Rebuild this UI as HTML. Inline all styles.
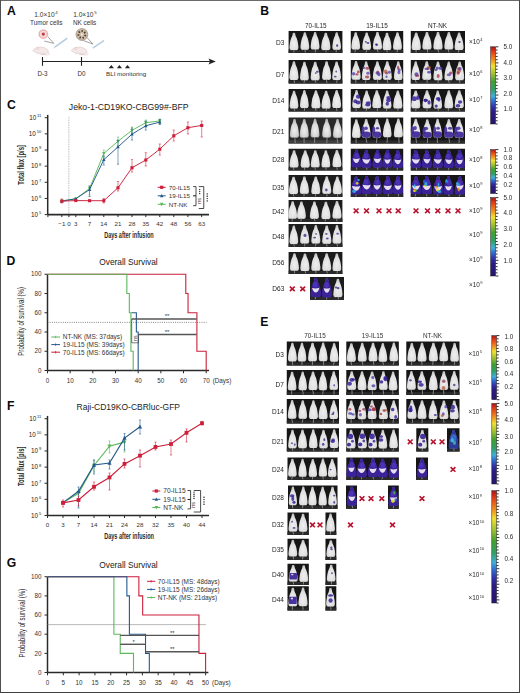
<!DOCTYPE html>
<html><head><meta charset="utf-8"><style>
html,body{margin:0;padding:0;background:#fff;}
svg{display:block;font-family:"Liberation Sans", sans-serif;}
</style></head><body>
<svg width="520" height="693" viewBox="0 0 520 693">
<defs>
<linearGradient id="cb" x1="0" y1="1" x2="0" y2="0">
<stop offset="0" stop-color="#28166c"/><stop offset="0.15" stop-color="#2c1c80"/><stop offset="0.22" stop-color="#3030a8"/>
<stop offset="0.3" stop-color="#3070d0"/><stop offset="0.36" stop-color="#40b0d8"/><stop offset="0.45" stop-color="#30a060"/>
<stop offset="0.55" stop-color="#40a030"/><stop offset="0.65" stop-color="#a0c030"/><stop offset="0.75" stop-color="#f0e030"/>
<stop offset="0.83" stop-color="#f09020"/><stop offset="0.92" stop-color="#e84818"/><stop offset="0.98" stop-color="#c02018"/><stop offset="1" stop-color="#902020"/>
</linearGradient>
<radialGradient id="mg" cx="0.5" cy="0.62" r="0.62">
<stop offset="0" stop-color="#efefef"/><stop offset="0.7" stop-color="#dedede"/><stop offset="1" stop-color="#b8b8b8"/>
</radialGradient>
<radialGradient id="mg2" cx="0.5" cy="0.6" r="0.6">
<stop offset="0" stop-color="#eeeeee"/><stop offset="0.6" stop-color="#d6d6d6"/><stop offset="1" stop-color="#a8a8a8"/>
</radialGradient>
<path id="mz" d="M0.000,0.000 C0.073,0.000 0.170,0.003 0.220,0.020 C0.270,0.037 0.273,0.070 0.300,0.100 C0.327,0.130 0.337,0.167 0.380,0.200 C0.423,0.233 0.503,0.263 0.560,0.300 C0.617,0.337 0.672,0.373 0.720,0.420 C0.768,0.467 0.813,0.523 0.850,0.580 C0.887,0.637 0.922,0.707 0.940,0.760 C0.958,0.813 1.000,0.860 0.960,0.900 C0.920,0.940 0.860,0.983 0.700,1.000 C0.540,1.017 0.233,1.000 0.000,1.000 C-0.233,1.000 -0.540,1.017 -0.700,1.000 C-0.860,0.983 -0.920,0.940 -0.960,0.900 C-1.000,0.860 -0.958,0.813 -0.940,0.760 C-0.922,0.707 -0.887,0.637 -0.850,0.580 C-0.813,0.523 -0.768,0.467 -0.720,0.420 C-0.672,0.373 -0.617,0.337 -0.560,0.300 C-0.503,0.263 -0.423,0.233 -0.380,0.200 C-0.337,0.167 -0.327,0.130 -0.300,0.100 C-0.273,0.070 -0.270,0.037 -0.220,0.020 C-0.170,0.003 -0.073,0.000 -0.000,0.000 Z"/>
<filter id="soft" x="0" y="0" width="1" height="1"><feGaussianBlur stdDeviation="0.3"/></filter>
</defs>
<rect x="0" y="0" width="520" height="693" fill="#fff"/>
<rect x="0" y="0" width="520" height="1" fill="#6a6a6a"/>
<rect x="0" y="0" width="1" height="693" fill="#505050"/>
<rect x="519" y="0" width="1" height="693" fill="#484848"/>
<rect x="0" y="692" width="520" height="1" fill="#404040"/>
<text x="7.10" y="15.40" font-size="12.2" text-anchor="start" fill="#0a0a0a" font-weight="bold" >A</text>
<text x="260.20" y="15.20" font-size="12.2" text-anchor="start" fill="#0a0a0a" font-weight="bold" >B</text>
<text x="6.90" y="108.50" font-size="12.2" text-anchor="start" fill="#0a0a0a" font-weight="bold" >C</text>
<text x="6.50" y="264.60" font-size="12.2" text-anchor="start" fill="#0a0a0a" font-weight="bold" >D</text>
<text x="260.20" y="325.50" font-size="12.2" text-anchor="start" fill="#0a0a0a" font-weight="bold" >E</text>
<text x="7.10" y="409.50" font-size="12.2" text-anchor="start" fill="#0a0a0a" font-weight="bold" >F</text>
<text x="6.70" y="566.80" font-size="12.2" text-anchor="start" fill="#0a0a0a" font-weight="bold" >G</text>
<text x="46.05" y="16.50" font-size="6.6" text-anchor="middle" fill="#333">1.0×10<tspan font-size="4.4" dx="0.6" dy="-2.77">4</tspan></text>
<text x="46.20" y="24.50" font-size="6.3" text-anchor="middle" fill="#333" font-weight="normal" >Tumor cells</text>
<text x="84.90" y="16.50" font-size="6.6" text-anchor="middle" fill="#333">1.0×10<tspan font-size="4.4" dx="0.6" dy="-2.77">5</tspan></text>
<text x="84.60" y="24.50" font-size="6.35" text-anchor="middle" fill="#333" font-weight="normal" >NK cells</text>
<line x1="42.50" y1="61.50" x2="213.00" y2="61.50" stroke="#222" stroke-width="1.1" />
<path d="M208.5,58.6 L215.8,61.5 L208.5,64.4 L210,61.5 Z" fill="#222"/>
<line x1="42.50" y1="57.00" x2="42.50" y2="65.80" stroke="#222" stroke-width="1.1" />
<line x1="81.50" y1="57.00" x2="81.50" y2="65.80" stroke="#222" stroke-width="1.1" />
<text x="42.50" y="76.30" font-size="6.3" text-anchor="middle" fill="#333" font-weight="normal" >D-3</text>
<text x="81.50" y="76.30" font-size="6.3" text-anchor="middle" fill="#333" font-weight="normal" >D0</text>
<path d="M108.70,68.3 L111.30,65 L113.90,68.3 Z" fill="#222"/>
<path d="M116.80,68.3 L119.40,65 L122.00,68.3 Z" fill="#222"/>
<path d="M124.90,68.3 L127.50,65 L130.10,68.3 Z" fill="#222"/>
<text x="106.00" y="76.40" font-size="6.25" text-anchor="start" fill="#333" font-weight="normal" >BLI monitoring</text>
<path d="M47.2,36 L53.8,43.4 L44.2,41" stroke="#666" stroke-width="0.6" fill="none"/>
<circle cx="43.3" cy="34.1" r="5.2" fill="#fdf3ee"/>
<circle cx="43.3" cy="34.1" r="4.1" fill="#f6dada" stroke="#e09090" stroke-width="0.8"/>
<circle cx="43.3" cy="34.1" r="1.6" fill="#c03a48"/>
<path d="M55.5,46.6 L66.8,38.5" stroke="#b8cde0" stroke-width="1.6" stroke-linecap="round"/>
<path d="M55.5,46.6 L53.5,48" stroke="#999" stroke-width="0.4"/>
<path d="M87,37.5 L92.8,44 L83.5,40.6" stroke="#666" stroke-width="0.6" fill="none"/>
<circle cx="81.9" cy="34.5" r="5.9" fill="#cdbba8" stroke="#8b7b6b" stroke-width="0.6"/>
<ellipse cx="85.24" cy="35.53" rx="1.1" ry="0.8" fill="#4a3a30" transform="rotate(17.2 85.24 35.53)"/>
<ellipse cx="83.18" cy="37.76" rx="1.1" ry="0.8" fill="#4a3a30" transform="rotate(68.6 83.18 37.76)"/>
<ellipse cx="80.15" cy="37.53" rx="1.1" ry="0.8" fill="#4a3a30" transform="rotate(120.0 80.15 37.53)"/>
<ellipse cx="78.44" cy="35.02" rx="1.1" ry="0.8" fill="#4a3a30" transform="rotate(171.5 78.44 35.02)"/>
<ellipse cx="79.34" cy="32.12" rx="1.1" ry="0.8" fill="#4a3a30" transform="rotate(222.9 79.34 32.12)"/>
<ellipse cx="82.16" cy="31.01" rx="1.1" ry="0.8" fill="#4a3a30" transform="rotate(274.3 82.16 31.01)"/>
<ellipse cx="84.79" cy="32.53" rx="1.1" ry="0.8" fill="#4a3a30" transform="rotate(325.8 84.79 32.53)"/>
<circle cx="81.9" cy="34.5" r="1" fill="#f4efe8"/>
<path d="M93.5,47.7 L103.5,40.8" stroke="#b8cde0" stroke-width="1.6" stroke-linecap="round"/>
<path d="M32.8,50.800000000000004 C34.3,48.6 36.3,47.2 38.8,47.2 C42.8,46.9 46.8,47.800000000000004 48.099999999999994,50.6 C48.8,52.6 46.8,53.9 42.8,53.9 C38.8,53.9 35.8,52.9 32.8,50.800000000000004 Z" fill="#f4e9e9" stroke="#d9b8b8" stroke-width="0.5"/>
<ellipse cx="37.4" cy="48.4" rx="1.3" ry="1.1" fill="#f6e2e2" stroke="#d9b8b8" stroke-width="0.4"/>
<path d="M47.8,52.1 C50.3,53.6 49.8,54.900000000000006 46.8,54.8 L40.8,54.6" fill="none" stroke="#d4b0b0" stroke-width="0.5"/>
<path d="M37.8,53.4 L37.3,54.4 M43.8,53.800000000000004 L44.099999999999994,54.6" stroke="#c8a8a8" stroke-width="0.4"/>
<path d="M71.3,50.800000000000004 C72.8,48.6 74.8,47.2 77.3,47.2 C81.3,46.9 85.3,47.800000000000004 86.6,50.6 C87.3,52.6 85.3,53.9 81.3,53.9 C77.3,53.9 74.3,52.9 71.3,50.800000000000004 Z" fill="#f4e9e9" stroke="#d9b8b8" stroke-width="0.5"/>
<ellipse cx="75.89999999999999" cy="48.4" rx="1.3" ry="1.1" fill="#f6e2e2" stroke="#d9b8b8" stroke-width="0.4"/>
<path d="M86.3,52.1 C88.8,53.6 88.3,54.900000000000006 85.3,54.8 L79.3,54.6" fill="none" stroke="#d4b0b0" stroke-width="0.5"/>
<path d="M76.3,53.4 L75.8,54.4 M82.3,53.800000000000004 L82.6,54.6" stroke="#c8a8a8" stroke-width="0.4"/>
<text x="128.70" y="110.00" font-size="8.7" text-anchor="middle" fill="#222" font-weight="normal" >Jeko-1-CD19KO-CBG99#-BFP</text>
<line x1="68.90" y1="214.60" x2="68.90" y2="116.00" stroke="#7a8a8a" stroke-width="0.7" stroke-dasharray="0.8,0.9"/>
<line x1="47.70" y1="214.60" x2="47.70" y2="114.90" stroke="#2a2a2a" stroke-width="1.5" />
<line x1="44.70" y1="214.60" x2="47.70" y2="214.60" stroke="#2a2a2a" stroke-width="1" />
<text x="41.30" y="216.90" font-size="6.3" text-anchor="end" fill="#222">10<tspan font-size="4.1" dx="0.9" dy="-2.9">5</tspan></text>
<line x1="44.70" y1="198.45" x2="47.70" y2="198.45" stroke="#2a2a2a" stroke-width="1" />
<text x="41.30" y="200.75" font-size="6.3" text-anchor="end" fill="#222">10<tspan font-size="4.1" dx="0.9" dy="-2.9">6</tspan></text>
<line x1="44.70" y1="182.30" x2="47.70" y2="182.30" stroke="#2a2a2a" stroke-width="1" />
<text x="41.30" y="184.60" font-size="6.3" text-anchor="end" fill="#222">10<tspan font-size="4.1" dx="0.9" dy="-2.9">7</tspan></text>
<line x1="44.70" y1="166.15" x2="47.70" y2="166.15" stroke="#2a2a2a" stroke-width="1" />
<text x="41.30" y="168.45" font-size="6.3" text-anchor="end" fill="#222">10<tspan font-size="4.1" dx="0.9" dy="-2.9">8</tspan></text>
<line x1="44.70" y1="150.00" x2="47.70" y2="150.00" stroke="#2a2a2a" stroke-width="1" />
<text x="41.30" y="152.30" font-size="6.3" text-anchor="end" fill="#222">10<tspan font-size="4.1" dx="0.9" dy="-2.9">9</tspan></text>
<line x1="44.70" y1="133.85" x2="47.70" y2="133.85" stroke="#2a2a2a" stroke-width="1" />
<text x="41.30" y="136.15" font-size="6.3" text-anchor="end" fill="#222">10<tspan font-size="4.1" dx="0.9" dy="-2.9">10</tspan></text>
<line x1="44.70" y1="117.70" x2="47.70" y2="117.70" stroke="#2a2a2a" stroke-width="1" />
<text x="41.30" y="120.00" font-size="6.3" text-anchor="end" fill="#222">10<tspan font-size="4.1" dx="0.9" dy="-2.9">11</tspan></text>
<line x1="47.70" y1="214.60" x2="209.00" y2="214.60" stroke="#2a2a2a" stroke-width="1.6" />
<line x1="47.90" y1="214.60" x2="47.90" y2="217.10" stroke="#2a2a2a" stroke-width="1" />
<line x1="61.80" y1="214.60" x2="61.80" y2="217.10" stroke="#2a2a2a" stroke-width="1" />
<text x="61.80" y="225.80" font-size="6.2" text-anchor="middle" fill="#333" font-weight="normal" >−1</text>
<line x1="68.90" y1="214.60" x2="68.90" y2="217.10" stroke="#2a2a2a" stroke-width="1" />
<text x="68.90" y="225.80" font-size="6.2" text-anchor="middle" fill="#333" font-weight="normal" >0</text>
<line x1="75.80" y1="214.60" x2="75.80" y2="217.10" stroke="#2a2a2a" stroke-width="1" />
<text x="75.80" y="225.80" font-size="6.2" text-anchor="middle" fill="#333" font-weight="normal" >3</text>
<line x1="89.60" y1="214.60" x2="89.60" y2="217.10" stroke="#2a2a2a" stroke-width="1" />
<text x="89.60" y="225.80" font-size="6.2" text-anchor="middle" fill="#333" font-weight="normal" >7</text>
<line x1="103.80" y1="214.60" x2="103.80" y2="217.10" stroke="#2a2a2a" stroke-width="1" />
<text x="103.80" y="225.80" font-size="6.2" text-anchor="middle" fill="#333" font-weight="normal" >14</text>
<line x1="118.00" y1="214.60" x2="118.00" y2="217.10" stroke="#2a2a2a" stroke-width="1" />
<text x="118.00" y="225.80" font-size="6.2" text-anchor="middle" fill="#333" font-weight="normal" >21</text>
<line x1="132.00" y1="214.60" x2="132.00" y2="217.10" stroke="#2a2a2a" stroke-width="1" />
<text x="132.00" y="225.80" font-size="6.2" text-anchor="middle" fill="#333" font-weight="normal" >28</text>
<line x1="145.80" y1="214.60" x2="145.80" y2="217.10" stroke="#2a2a2a" stroke-width="1" />
<text x="145.80" y="225.80" font-size="6.2" text-anchor="middle" fill="#333" font-weight="normal" >35</text>
<line x1="159.80" y1="214.60" x2="159.80" y2="217.10" stroke="#2a2a2a" stroke-width="1" />
<text x="159.80" y="225.80" font-size="6.2" text-anchor="middle" fill="#333" font-weight="normal" >42</text>
<line x1="173.80" y1="214.60" x2="173.80" y2="217.10" stroke="#2a2a2a" stroke-width="1" />
<text x="173.80" y="225.80" font-size="6.2" text-anchor="middle" fill="#333" font-weight="normal" >48</text>
<line x1="187.90" y1="214.60" x2="187.90" y2="217.10" stroke="#2a2a2a" stroke-width="1" />
<text x="187.90" y="225.80" font-size="6.2" text-anchor="middle" fill="#333" font-weight="normal" >56</text>
<line x1="201.70" y1="214.60" x2="201.70" y2="217.10" stroke="#2a2a2a" stroke-width="1" />
<text x="201.70" y="225.80" font-size="6.2" text-anchor="middle" fill="#333" font-weight="normal" >63</text>
<text transform="translate(23.60,164.90) rotate(-90) scale(0.675,1)" font-size="8.7" text-anchor="middle" fill="#2a2a2a" font-weight="bold">Total flux [p/s]</text>
<text transform="translate(128.90,237.80) scale(0.672,1)" font-size="8.2" text-anchor="middle" fill="#2a2a2a" font-weight="bold">Days after infusion</text>
<line x1="89.60" y1="186.00" x2="89.60" y2="195.00" stroke="#5cb85c" stroke-width="0.65" opacity="0.85"/>
<line x1="88.50" y1="186.00" x2="90.70" y2="186.00" stroke="#5cb85c" stroke-width="0.65" opacity="0.85"/>
<line x1="88.50" y1="195.00" x2="90.70" y2="195.00" stroke="#5cb85c" stroke-width="0.65" opacity="0.85"/>
<line x1="103.80" y1="150.00" x2="103.80" y2="157.00" stroke="#5cb85c" stroke-width="0.65" opacity="0.85"/>
<line x1="102.70" y1="150.00" x2="104.90" y2="150.00" stroke="#5cb85c" stroke-width="0.65" opacity="0.85"/>
<line x1="102.70" y1="157.00" x2="104.90" y2="157.00" stroke="#5cb85c" stroke-width="0.65" opacity="0.85"/>
<line x1="118.00" y1="137.00" x2="118.00" y2="146.00" stroke="#5cb85c" stroke-width="0.65" opacity="0.85"/>
<line x1="116.90" y1="137.00" x2="119.10" y2="137.00" stroke="#5cb85c" stroke-width="0.65" opacity="0.85"/>
<line x1="116.90" y1="146.00" x2="119.10" y2="146.00" stroke="#5cb85c" stroke-width="0.65" opacity="0.85"/>
<line x1="132.00" y1="127.00" x2="132.00" y2="133.00" stroke="#5cb85c" stroke-width="0.65" opacity="0.85"/>
<line x1="130.90" y1="127.00" x2="133.10" y2="127.00" stroke="#5cb85c" stroke-width="0.65" opacity="0.85"/>
<line x1="130.90" y1="133.00" x2="133.10" y2="133.00" stroke="#5cb85c" stroke-width="0.65" opacity="0.85"/>
<line x1="145.80" y1="120.00" x2="145.80" y2="125.00" stroke="#5cb85c" stroke-width="0.65" opacity="0.85"/>
<line x1="144.70" y1="120.00" x2="146.90" y2="120.00" stroke="#5cb85c" stroke-width="0.65" opacity="0.85"/>
<line x1="144.70" y1="125.00" x2="146.90" y2="125.00" stroke="#5cb85c" stroke-width="0.65" opacity="0.85"/>
<line x1="159.80" y1="119.00" x2="159.80" y2="124.00" stroke="#5cb85c" stroke-width="0.65" opacity="0.85"/>
<line x1="158.70" y1="119.00" x2="160.90" y2="119.00" stroke="#5cb85c" stroke-width="0.65" opacity="0.85"/>
<line x1="158.70" y1="124.00" x2="160.90" y2="124.00" stroke="#5cb85c" stroke-width="0.65" opacity="0.85"/>
<polyline points="61.80,200.87 75.80,198.77 89.60,188.44 103.80,153.39 118.00,141.28 132.00,130.30 145.80,122.71 159.80,120.93" fill="none" stroke="#5cb85c" stroke-width="0.95" />
<path d="M60.09,199.48 L61.80,202.73 L63.50,199.48 Z" fill="#5cb85c"/>
<path d="M74.09,197.38 L75.80,200.63 L77.50,197.38 Z" fill="#5cb85c"/>
<path d="M87.89,187.04 L89.60,190.30 L91.30,187.04 Z" fill="#5cb85c"/>
<path d="M102.09,152.00 L103.80,155.25 L105.50,152.00 Z" fill="#5cb85c"/>
<path d="M116.30,139.88 L118.00,143.14 L119.70,139.88 Z" fill="#5cb85c"/>
<path d="M130.29,128.90 L132.00,132.16 L133.71,128.90 Z" fill="#5cb85c"/>
<path d="M144.09,121.31 L145.80,124.57 L147.51,121.31 Z" fill="#5cb85c"/>
<path d="M158.09,119.53 L159.80,122.79 L161.51,119.53 Z" fill="#5cb85c"/>
<line x1="89.60" y1="186.00" x2="89.60" y2="196.50" stroke="#245a8c" stroke-width="0.65" opacity="0.85"/>
<line x1="88.50" y1="186.00" x2="90.70" y2="186.00" stroke="#245a8c" stroke-width="0.65" opacity="0.85"/>
<line x1="88.50" y1="196.50" x2="90.70" y2="196.50" stroke="#245a8c" stroke-width="0.65" opacity="0.85"/>
<line x1="103.80" y1="156.00" x2="103.80" y2="165.00" stroke="#245a8c" stroke-width="0.65" opacity="0.85"/>
<line x1="102.70" y1="156.00" x2="104.90" y2="156.00" stroke="#245a8c" stroke-width="0.65" opacity="0.85"/>
<line x1="102.70" y1="165.00" x2="104.90" y2="165.00" stroke="#245a8c" stroke-width="0.65" opacity="0.85"/>
<line x1="118.00" y1="140.00" x2="118.00" y2="164.20" stroke="#245a8c" stroke-width="0.65" opacity="0.85"/>
<line x1="116.90" y1="140.00" x2="119.10" y2="140.00" stroke="#245a8c" stroke-width="0.65" opacity="0.85"/>
<line x1="116.90" y1="164.20" x2="119.10" y2="164.20" stroke="#245a8c" stroke-width="0.65" opacity="0.85"/>
<line x1="132.00" y1="128.00" x2="132.00" y2="140.00" stroke="#245a8c" stroke-width="0.65" opacity="0.85"/>
<line x1="130.90" y1="128.00" x2="133.10" y2="128.00" stroke="#245a8c" stroke-width="0.65" opacity="0.85"/>
<line x1="130.90" y1="140.00" x2="133.10" y2="140.00" stroke="#245a8c" stroke-width="0.65" opacity="0.85"/>
<line x1="145.80" y1="121.00" x2="145.80" y2="130.00" stroke="#245a8c" stroke-width="0.65" opacity="0.85"/>
<line x1="144.70" y1="121.00" x2="146.90" y2="121.00" stroke="#245a8c" stroke-width="0.65" opacity="0.85"/>
<line x1="144.70" y1="130.00" x2="146.90" y2="130.00" stroke="#245a8c" stroke-width="0.65" opacity="0.85"/>
<line x1="159.80" y1="119.50" x2="159.80" y2="124.50" stroke="#245a8c" stroke-width="0.65" opacity="0.85"/>
<line x1="158.70" y1="119.50" x2="160.90" y2="119.50" stroke="#245a8c" stroke-width="0.65" opacity="0.85"/>
<line x1="158.70" y1="124.50" x2="160.90" y2="124.50" stroke="#245a8c" stroke-width="0.65" opacity="0.85"/>
<polyline points="61.80,201.20 75.80,198.77 89.60,189.57 103.80,159.69 118.00,146.93 132.00,134.17 145.80,125.78 159.80,122.06" fill="none" stroke="#245a8c" stroke-width="0.95" />
<path d="M60.09,202.59 L61.80,199.34 L63.50,202.59 Z" fill="#245a8c"/>
<path d="M74.09,200.17 L75.80,196.91 L77.50,200.17 Z" fill="#245a8c"/>
<path d="M87.89,190.96 L89.60,187.71 L91.30,190.96 Z" fill="#245a8c"/>
<path d="M102.09,161.09 L103.80,157.83 L105.50,161.09 Z" fill="#245a8c"/>
<path d="M116.30,148.33 L118.00,145.07 L119.70,148.33 Z" fill="#245a8c"/>
<path d="M130.29,135.57 L132.00,132.31 L133.71,135.57 Z" fill="#245a8c"/>
<path d="M144.09,127.17 L145.80,123.92 L147.51,127.17 Z" fill="#245a8c"/>
<path d="M158.09,123.46 L159.80,120.20 L161.51,123.46 Z" fill="#245a8c"/>
<line x1="61.80" y1="199.00" x2="61.80" y2="203.00" stroke="#cc1f3a" stroke-width="0.65" opacity="0.85"/>
<line x1="60.70" y1="199.00" x2="62.90" y2="199.00" stroke="#cc1f3a" stroke-width="0.65" opacity="0.85"/>
<line x1="60.70" y1="203.00" x2="62.90" y2="203.00" stroke="#cc1f3a" stroke-width="0.65" opacity="0.85"/>
<line x1="103.80" y1="198.50" x2="103.80" y2="203.00" stroke="#cc1f3a" stroke-width="0.65" opacity="0.85"/>
<line x1="102.70" y1="198.50" x2="104.90" y2="198.50" stroke="#cc1f3a" stroke-width="0.65" opacity="0.85"/>
<line x1="102.70" y1="203.00" x2="104.90" y2="203.00" stroke="#cc1f3a" stroke-width="0.65" opacity="0.85"/>
<line x1="118.00" y1="181.50" x2="118.00" y2="191.00" stroke="#cc1f3a" stroke-width="0.65" opacity="0.85"/>
<line x1="116.90" y1="181.50" x2="119.10" y2="181.50" stroke="#cc1f3a" stroke-width="0.65" opacity="0.85"/>
<line x1="116.90" y1="191.00" x2="119.10" y2="191.00" stroke="#cc1f3a" stroke-width="0.65" opacity="0.85"/>
<line x1="132.00" y1="159.60" x2="132.00" y2="172.00" stroke="#cc1f3a" stroke-width="0.65" opacity="0.85"/>
<line x1="130.90" y1="159.60" x2="133.10" y2="159.60" stroke="#cc1f3a" stroke-width="0.65" opacity="0.85"/>
<line x1="130.90" y1="172.00" x2="133.10" y2="172.00" stroke="#cc1f3a" stroke-width="0.65" opacity="0.85"/>
<line x1="145.80" y1="152.70" x2="145.80" y2="166.00" stroke="#cc1f3a" stroke-width="0.65" opacity="0.85"/>
<line x1="144.70" y1="152.70" x2="146.90" y2="152.70" stroke="#cc1f3a" stroke-width="0.65" opacity="0.85"/>
<line x1="144.70" y1="166.00" x2="146.90" y2="166.00" stroke="#cc1f3a" stroke-width="0.65" opacity="0.85"/>
<line x1="159.80" y1="144.00" x2="159.80" y2="155.00" stroke="#cc1f3a" stroke-width="0.65" opacity="0.85"/>
<line x1="158.70" y1="144.00" x2="160.90" y2="144.00" stroke="#cc1f3a" stroke-width="0.65" opacity="0.85"/>
<line x1="158.70" y1="155.00" x2="160.90" y2="155.00" stroke="#cc1f3a" stroke-width="0.65" opacity="0.85"/>
<line x1="173.80" y1="130.00" x2="173.80" y2="141.00" stroke="#cc1f3a" stroke-width="0.65" opacity="0.85"/>
<line x1="172.70" y1="130.00" x2="174.90" y2="130.00" stroke="#cc1f3a" stroke-width="0.65" opacity="0.85"/>
<line x1="172.70" y1="141.00" x2="174.90" y2="141.00" stroke="#cc1f3a" stroke-width="0.65" opacity="0.85"/>
<line x1="187.90" y1="122.00" x2="187.90" y2="134.00" stroke="#cc1f3a" stroke-width="0.65" opacity="0.85"/>
<line x1="186.80" y1="122.00" x2="189.00" y2="122.00" stroke="#cc1f3a" stroke-width="0.65" opacity="0.85"/>
<line x1="186.80" y1="134.00" x2="189.00" y2="134.00" stroke="#cc1f3a" stroke-width="0.65" opacity="0.85"/>
<line x1="201.70" y1="121.00" x2="201.70" y2="137.00" stroke="#cc1f3a" stroke-width="0.65" opacity="0.85"/>
<line x1="200.60" y1="121.00" x2="202.80" y2="121.00" stroke="#cc1f3a" stroke-width="0.65" opacity="0.85"/>
<line x1="200.60" y1="137.00" x2="202.80" y2="137.00" stroke="#cc1f3a" stroke-width="0.65" opacity="0.85"/>
<polyline points="61.80,201.20 75.80,200.55 89.60,200.71 103.80,200.71 118.00,187.79 132.00,167.76 145.80,160.01 159.80,149.19 173.80,135.79 187.90,127.71 201.70,125.45" fill="none" stroke="#cc1f3a" stroke-width="0.95" />
<rect x="60.25" y="199.65" width="3.10" height="3.10" fill="#cc1f3a"/>
<rect x="74.25" y="199.00" width="3.10" height="3.10" fill="#cc1f3a"/>
<rect x="88.05" y="199.16" width="3.10" height="3.10" fill="#cc1f3a"/>
<rect x="102.25" y="199.16" width="3.10" height="3.10" fill="#cc1f3a"/>
<rect x="116.45" y="186.24" width="3.10" height="3.10" fill="#cc1f3a"/>
<rect x="130.45" y="166.21" width="3.10" height="3.10" fill="#cc1f3a"/>
<rect x="144.25" y="158.46" width="3.10" height="3.10" fill="#cc1f3a"/>
<rect x="158.25" y="147.64" width="3.10" height="3.10" fill="#cc1f3a"/>
<rect x="172.25" y="134.24" width="3.10" height="3.10" fill="#cc1f3a"/>
<rect x="186.35" y="126.16" width="3.10" height="3.10" fill="#cc1f3a"/>
<rect x="200.15" y="123.90" width="3.10" height="3.10" fill="#cc1f3a"/>
<line x1="157.70" y1="187.30" x2="165.70" y2="187.30" stroke="#cc1f3a" stroke-width="1" />
<rect x="160.10" y="185.70" width="3.20" height="3.20" fill="#cc1f3a"/>
<text x="168.70" y="189.50" font-size="6.25" text-anchor="start" fill="#333" font-weight="normal" >70-IL15</text>
<line x1="157.70" y1="195.80" x2="165.70" y2="195.80" stroke="#245a8c" stroke-width="1" />
<path d="M159.94,197.24 L161.70,193.88 L163.46,197.24 Z" fill="#245a8c"/>
<text x="168.70" y="198.00" font-size="6.25" text-anchor="start" fill="#333" font-weight="normal" >19-IL15</text>
<line x1="157.70" y1="204.30" x2="165.70" y2="204.30" stroke="#5cb85c" stroke-width="1" />
<path d="M159.94,202.86 L161.70,206.22 L163.46,202.86 Z" fill="#5cb85c"/>
<text x="168.70" y="206.50" font-size="6.25" text-anchor="start" fill="#333" font-weight="normal" >NT-NK</text>
<path d="M193.1,186.6 H196 V205.7 H193.1" fill="none" stroke="#2a2a2a" stroke-width="0.85"/>
<path d="M193.1,195.8 H196" fill="none" stroke="#2a2a2a" stroke-width="1.1"/>
<path d="M198.8,186.6 H203.75 V208.5 H198.8" fill="none" stroke="#2a2a2a" stroke-width="0.85"/>
<circle cx="199.70" cy="189.60" r="0.72" fill="#1a1a1a"/>
<circle cx="199.70" cy="191.60" r="0.72" fill="#1a1a1a"/>
<circle cx="199.70" cy="193.60" r="0.72" fill="#1a1a1a"/>
<text transform="translate(201.15,201.00) rotate(-90)" font-size="5.4" text-anchor="middle" fill="#333">ns</text>
<circle cx="207.20" cy="193.90" r="0.72" fill="#1a1a1a"/>
<circle cx="207.20" cy="196.30" r="0.72" fill="#1a1a1a"/>
<circle cx="207.20" cy="198.60" r="0.72" fill="#1a1a1a"/>
<circle cx="207.20" cy="200.90" r="0.72" fill="#1a1a1a"/>
<text x="128.50" y="265.30" font-size="8.35" text-anchor="middle" fill="#222" font-weight="normal" >Overall Survival</text>
<line x1="47.50" y1="370.50" x2="47.50" y2="274.25" stroke="#2a2a2a" stroke-width="1.5" />
<line x1="44.50" y1="370.50" x2="47.50" y2="370.50" stroke="#2a2a2a" stroke-width="1" />
<text x="41.60" y="372.70" font-size="6.3" text-anchor="end" fill="#333" font-weight="normal" >0</text>
<line x1="44.50" y1="351.25" x2="47.50" y2="351.25" stroke="#2a2a2a" stroke-width="1" />
<text x="41.60" y="353.45" font-size="6.3" text-anchor="end" fill="#333" font-weight="normal" >20</text>
<line x1="44.50" y1="332.00" x2="47.50" y2="332.00" stroke="#2a2a2a" stroke-width="1" />
<text x="41.60" y="334.20" font-size="6.3" text-anchor="end" fill="#333" font-weight="normal" >40</text>
<line x1="44.50" y1="312.75" x2="47.50" y2="312.75" stroke="#2a2a2a" stroke-width="1" />
<text x="41.60" y="314.95" font-size="6.3" text-anchor="end" fill="#333" font-weight="normal" >60</text>
<line x1="44.50" y1="293.50" x2="47.50" y2="293.50" stroke="#2a2a2a" stroke-width="1" />
<text x="41.60" y="295.70" font-size="6.3" text-anchor="end" fill="#333" font-weight="normal" >80</text>
<line x1="44.50" y1="274.25" x2="47.50" y2="274.25" stroke="#2a2a2a" stroke-width="1" />
<text x="41.60" y="276.45" font-size="6.3" text-anchor="end" fill="#333" font-weight="normal" >100</text>
<line x1="47.50" y1="370.50" x2="208.99" y2="370.50" stroke="#2a2a2a" stroke-width="1.6" />
<line x1="47.50" y1="370.50" x2="47.50" y2="373.30" stroke="#2a2a2a" stroke-width="1" />
<text x="47.50" y="382.60" font-size="6.3" text-anchor="middle" fill="#333" font-weight="normal" >0</text>
<line x1="70.17" y1="370.50" x2="70.17" y2="373.30" stroke="#2a2a2a" stroke-width="1" />
<text x="70.17" y="382.60" font-size="6.3" text-anchor="middle" fill="#333" font-weight="normal" >10</text>
<line x1="92.84" y1="370.50" x2="92.84" y2="373.30" stroke="#2a2a2a" stroke-width="1" />
<text x="92.84" y="382.60" font-size="6.3" text-anchor="middle" fill="#333" font-weight="normal" >20</text>
<line x1="115.51" y1="370.50" x2="115.51" y2="373.30" stroke="#2a2a2a" stroke-width="1" />
<text x="115.51" y="382.60" font-size="6.3" text-anchor="middle" fill="#333" font-weight="normal" >30</text>
<line x1="138.18" y1="370.50" x2="138.18" y2="373.30" stroke="#2a2a2a" stroke-width="1" />
<text x="138.18" y="382.60" font-size="6.3" text-anchor="middle" fill="#333" font-weight="normal" >40</text>
<line x1="160.85" y1="370.50" x2="160.85" y2="373.30" stroke="#2a2a2a" stroke-width="1" />
<text x="160.85" y="382.60" font-size="6.3" text-anchor="middle" fill="#333" font-weight="normal" >50</text>
<line x1="183.52" y1="370.50" x2="183.52" y2="373.30" stroke="#2a2a2a" stroke-width="1" />
<text x="183.52" y="382.60" font-size="6.3" text-anchor="middle" fill="#333" font-weight="normal" >60</text>
<line x1="206.19" y1="370.50" x2="206.19" y2="373.30" stroke="#2a2a2a" stroke-width="1" />
<text x="206.19" y="382.60" font-size="6.3" text-anchor="middle" fill="#333" font-weight="normal" >70</text>
<text x="212.69" y="382.60" font-size="6.3" text-anchor="start" fill="#333" font-weight="normal" >(Days)</text>
<text transform="translate(24.40,321.40) rotate(-90) scale(0.725,1)" font-size="8.4" text-anchor="middle" fill="#2a2a2a" font-weight="normal">Probability of survival (%)</text>
<line x1="47.50" y1="322.38" x2="206.50" y2="322.38" stroke="#444" stroke-width="0.7" stroke-dasharray="0.9,1.3"/>
<polyline points="131.38,312.75 136.37,312.75 136.37,332.00 138.18,332.00 138.18,370.50" fill="none" stroke="#245a8c" stroke-width="1.1" />
<polyline points="47.50,274.25 185.79,274.25 185.79,274.25 185.79,274.25 185.79,293.50 188.05,293.50 188.05,293.50 188.05,293.50 188.05,312.75 196.90,312.75 196.90,312.75 196.90,312.75 196.90,351.25 206.19,351.25 206.19,351.25 206.19,351.25 206.19,370.50" fill="none" stroke="#cc1f3a" stroke-width="1.1" />
<polyline points="47.50,274.25 126.84,274.25 126.84,274.25 126.84,274.25 126.84,293.50 129.34,293.50 129.34,293.50 129.34,293.50 129.34,312.75 130.93,312.75 130.93,312.75 130.93,312.75 130.93,351.25 133.19,351.25 133.19,351.25 133.19,351.25 133.19,370.50" fill="none" stroke="#5cb85c" stroke-width="1.1" />
<line x1="131.70" y1="319.00" x2="196.70" y2="319.00" stroke="#555" stroke-width="1.4" />
<line x1="138.50" y1="334.50" x2="196.70" y2="334.50" stroke="#555" stroke-width="1.4" />
<text x="167.00" y="318.00" font-size="6" text-anchor="middle" fill="#333" font-weight="normal" >**</text>
<text x="167.00" y="333.50" font-size="6" text-anchor="middle" fill="#333" font-weight="normal" >**</text>
<path d="M131.7,319 V342.8 H138.5 V334.5" fill="none" stroke="#444" stroke-width="0.7"/>
<text transform="translate(136.80,338.20) rotate(-90) scale(1,1)" font-size="5.2" text-anchor="middle" fill="#333" font-weight="normal">ns</text>
<line x1="51.30" y1="337.00" x2="60.00" y2="337.00" stroke="#5cb85c" stroke-width="1" />
<line x1="55.60" y1="335.80" x2="55.60" y2="338.20" stroke="#5cb85c" stroke-width="0.8" />
<text x="62.80" y="339.30" font-size="6.45" text-anchor="start" fill="#333" font-weight="normal" >NT-NK (MS: 37days)</text>
<line x1="51.30" y1="344.60" x2="60.00" y2="344.60" stroke="#245a8c" stroke-width="1" />
<line x1="55.60" y1="343.40" x2="55.60" y2="345.80" stroke="#245a8c" stroke-width="0.8" />
<text x="62.80" y="346.90" font-size="6.45" text-anchor="start" fill="#333" font-weight="normal" >19-IL15 (MS: 39days)</text>
<line x1="51.30" y1="352.20" x2="60.00" y2="352.20" stroke="#cc1f3a" stroke-width="1" />
<line x1="55.60" y1="351.00" x2="55.60" y2="353.40" stroke="#cc1f3a" stroke-width="0.8" />
<text x="62.80" y="354.50" font-size="6.45" text-anchor="start" fill="#333" font-weight="normal" >70-IL15 (MS: 66days)</text>
<text x="128.30" y="410.00" font-size="8.5" text-anchor="middle" fill="#222" font-weight="normal" >Raji-CD19KO-CBRluc-GFP</text>
<line x1="47.50" y1="515.50" x2="47.50" y2="415.92" stroke="#2a2a2a" stroke-width="1.5" />
<line x1="44.50" y1="515.50" x2="47.50" y2="515.50" stroke="#2a2a2a" stroke-width="1" />
<text x="41.30" y="517.80" font-size="6.3" text-anchor="end" fill="#222">10<tspan font-size="4.1" dx="0.9" dy="-2.9">5</tspan></text>
<line x1="44.50" y1="499.37" x2="47.50" y2="499.37" stroke="#2a2a2a" stroke-width="1" />
<text x="41.30" y="501.67" font-size="6.3" text-anchor="end" fill="#222">10<tspan font-size="4.1" dx="0.9" dy="-2.9">6</tspan></text>
<line x1="44.50" y1="483.24" x2="47.50" y2="483.24" stroke="#2a2a2a" stroke-width="1" />
<text x="41.30" y="485.54" font-size="6.3" text-anchor="end" fill="#222">10<tspan font-size="4.1" dx="0.9" dy="-2.9">7</tspan></text>
<line x1="44.50" y1="467.11" x2="47.50" y2="467.11" stroke="#2a2a2a" stroke-width="1" />
<text x="41.30" y="469.41" font-size="6.3" text-anchor="end" fill="#222">10<tspan font-size="4.1" dx="0.9" dy="-2.9">8</tspan></text>
<line x1="44.50" y1="450.98" x2="47.50" y2="450.98" stroke="#2a2a2a" stroke-width="1" />
<text x="41.30" y="453.28" font-size="6.3" text-anchor="end" fill="#222">10<tspan font-size="4.1" dx="0.9" dy="-2.9">9</tspan></text>
<line x1="44.50" y1="434.85" x2="47.50" y2="434.85" stroke="#2a2a2a" stroke-width="1" />
<text x="41.30" y="437.15" font-size="6.3" text-anchor="end" fill="#222">10<tspan font-size="4.1" dx="0.9" dy="-2.9">10</tspan></text>
<line x1="44.50" y1="418.72" x2="47.50" y2="418.72" stroke="#2a2a2a" stroke-width="1" />
<text x="41.30" y="421.02" font-size="6.3" text-anchor="end" fill="#222">10<tspan font-size="4.1" dx="0.9" dy="-2.9">11</tspan></text>
<line x1="47.50" y1="515.50" x2="209.00" y2="515.50" stroke="#2a2a2a" stroke-width="1.6" />
<line x1="47.50" y1="515.50" x2="47.50" y2="518.00" stroke="#2a2a2a" stroke-width="1" />
<text x="47.50" y="526.80" font-size="6.2" text-anchor="middle" fill="#333" font-weight="normal" >0</text>
<line x1="63.00" y1="515.50" x2="63.00" y2="518.00" stroke="#2a2a2a" stroke-width="1" />
<text x="63.00" y="526.80" font-size="6.2" text-anchor="middle" fill="#333" font-weight="normal" >3</text>
<line x1="78.50" y1="515.50" x2="78.50" y2="518.00" stroke="#2a2a2a" stroke-width="1" />
<text x="78.50" y="526.80" font-size="6.2" text-anchor="middle" fill="#333" font-weight="normal" >7</text>
<line x1="94.00" y1="515.50" x2="94.00" y2="518.00" stroke="#2a2a2a" stroke-width="1" />
<text x="94.00" y="526.80" font-size="6.2" text-anchor="middle" fill="#333" font-weight="normal" >14</text>
<line x1="109.50" y1="515.50" x2="109.50" y2="518.00" stroke="#2a2a2a" stroke-width="1" />
<text x="109.50" y="526.80" font-size="6.2" text-anchor="middle" fill="#333" font-weight="normal" >21</text>
<line x1="124.50" y1="515.50" x2="124.50" y2="518.00" stroke="#2a2a2a" stroke-width="1" />
<text x="124.50" y="526.80" font-size="6.2" text-anchor="middle" fill="#333" font-weight="normal" >24</text>
<line x1="140.00" y1="515.50" x2="140.00" y2="518.00" stroke="#2a2a2a" stroke-width="1" />
<text x="140.00" y="526.80" font-size="6.2" text-anchor="middle" fill="#333" font-weight="normal" >28</text>
<line x1="155.50" y1="515.50" x2="155.50" y2="518.00" stroke="#2a2a2a" stroke-width="1" />
<text x="155.50" y="526.80" font-size="6.2" text-anchor="middle" fill="#333" font-weight="normal" >32</text>
<line x1="171.00" y1="515.50" x2="171.00" y2="518.00" stroke="#2a2a2a" stroke-width="1" />
<text x="171.00" y="526.80" font-size="6.2" text-anchor="middle" fill="#333" font-weight="normal" >35</text>
<line x1="186.50" y1="515.50" x2="186.50" y2="518.00" stroke="#2a2a2a" stroke-width="1" />
<text x="186.50" y="526.80" font-size="6.2" text-anchor="middle" fill="#333" font-weight="normal" >40</text>
<line x1="202.00" y1="515.50" x2="202.00" y2="518.00" stroke="#2a2a2a" stroke-width="1" />
<text x="202.00" y="526.80" font-size="6.2" text-anchor="middle" fill="#333" font-weight="normal" >44</text>
<text transform="translate(23.60,466.30) rotate(-90) scale(0.675,1)" font-size="8.7" text-anchor="middle" fill="#2a2a2a" font-weight="bold">Total flux [p/s]</text>
<text transform="translate(129.10,539.30) scale(0.675,1)" font-size="8.2" text-anchor="middle" fill="#2a2a2a" font-weight="bold">Days after infusion</text>
<line x1="94.00" y1="460.00" x2="94.00" y2="472.00" stroke="#5cb85c" stroke-width="0.65" opacity="0.85"/>
<line x1="92.90" y1="460.00" x2="95.10" y2="460.00" stroke="#5cb85c" stroke-width="0.65" opacity="0.85"/>
<line x1="92.90" y1="472.00" x2="95.10" y2="472.00" stroke="#5cb85c" stroke-width="0.65" opacity="0.85"/>
<line x1="109.50" y1="441.00" x2="109.50" y2="453.00" stroke="#5cb85c" stroke-width="0.65" opacity="0.85"/>
<line x1="108.40" y1="441.00" x2="110.60" y2="441.00" stroke="#5cb85c" stroke-width="0.65" opacity="0.85"/>
<line x1="108.40" y1="453.00" x2="110.60" y2="453.00" stroke="#5cb85c" stroke-width="0.65" opacity="0.85"/>
<line x1="124.50" y1="437.00" x2="124.50" y2="452.00" stroke="#5cb85c" stroke-width="0.65" opacity="0.85"/>
<line x1="123.40" y1="437.00" x2="125.60" y2="437.00" stroke="#5cb85c" stroke-width="0.65" opacity="0.85"/>
<line x1="123.40" y1="452.00" x2="125.60" y2="452.00" stroke="#5cb85c" stroke-width="0.65" opacity="0.85"/>
<polyline points="63.00,502.60 78.50,493.24 94.00,465.50 109.50,446.14 124.50,442.11" fill="none" stroke="#5cb85c" stroke-width="1.15" />
<path d="M60.91,500.89 L63.00,504.88 L65.09,500.89 Z" fill="#5cb85c"/>
<path d="M76.41,491.53 L78.50,495.52 L80.59,491.53 Z" fill="#5cb85c"/>
<path d="M91.91,463.79 L94.00,467.78 L96.09,463.79 Z" fill="#5cb85c"/>
<path d="M107.41,444.43 L109.50,448.42 L111.59,444.43 Z" fill="#5cb85c"/>
<path d="M122.41,440.40 L124.50,444.39 L126.59,440.40 Z" fill="#5cb85c"/>
<line x1="78.50" y1="487.00" x2="78.50" y2="508.00" stroke="#245a8c" stroke-width="0.65" opacity="0.85"/>
<line x1="77.40" y1="487.00" x2="79.60" y2="487.00" stroke="#245a8c" stroke-width="0.65" opacity="0.85"/>
<line x1="77.40" y1="508.00" x2="79.60" y2="508.00" stroke="#245a8c" stroke-width="0.65" opacity="0.85"/>
<line x1="94.00" y1="460.00" x2="94.00" y2="474.00" stroke="#245a8c" stroke-width="0.65" opacity="0.85"/>
<line x1="92.90" y1="460.00" x2="95.10" y2="460.00" stroke="#245a8c" stroke-width="0.65" opacity="0.85"/>
<line x1="92.90" y1="474.00" x2="95.10" y2="474.00" stroke="#245a8c" stroke-width="0.65" opacity="0.85"/>
<line x1="109.50" y1="460.00" x2="109.50" y2="469.00" stroke="#245a8c" stroke-width="0.65" opacity="0.85"/>
<line x1="108.40" y1="460.00" x2="110.60" y2="460.00" stroke="#245a8c" stroke-width="0.65" opacity="0.85"/>
<line x1="108.40" y1="469.00" x2="110.60" y2="469.00" stroke="#245a8c" stroke-width="0.65" opacity="0.85"/>
<line x1="124.50" y1="433.50" x2="124.50" y2="450.00" stroke="#245a8c" stroke-width="0.65" opacity="0.85"/>
<line x1="123.40" y1="433.50" x2="125.60" y2="433.50" stroke="#245a8c" stroke-width="0.65" opacity="0.85"/>
<line x1="123.40" y1="450.00" x2="125.60" y2="450.00" stroke="#245a8c" stroke-width="0.65" opacity="0.85"/>
<line x1="140.00" y1="420.00" x2="140.00" y2="434.00" stroke="#245a8c" stroke-width="0.65" opacity="0.85"/>
<line x1="138.90" y1="420.00" x2="141.10" y2="420.00" stroke="#245a8c" stroke-width="0.65" opacity="0.85"/>
<line x1="138.90" y1="434.00" x2="141.10" y2="434.00" stroke="#245a8c" stroke-width="0.65" opacity="0.85"/>
<polyline points="63.00,502.60 78.50,491.31 94.00,465.01 109.50,463.08 124.50,438.08 140.00,426.79" fill="none" stroke="#245a8c" stroke-width="1.15" />
<path d="M60.91,504.31 L63.00,500.32 L65.09,504.31 Z" fill="#245a8c"/>
<path d="M76.41,493.01 L78.50,489.03 L80.59,493.01 Z" fill="#245a8c"/>
<path d="M91.91,466.72 L94.00,462.73 L96.09,466.72 Z" fill="#245a8c"/>
<path d="M107.41,464.79 L109.50,460.80 L111.59,464.79 Z" fill="#245a8c"/>
<path d="M122.41,439.79 L124.50,435.80 L126.59,439.79 Z" fill="#245a8c"/>
<path d="M137.91,428.50 L140.00,424.51 L142.09,428.50 Z" fill="#245a8c"/>
<line x1="63.00" y1="500.00" x2="63.00" y2="507.00" stroke="#cc1f3a" stroke-width="0.65" opacity="0.85"/>
<line x1="61.90" y1="500.00" x2="64.10" y2="500.00" stroke="#cc1f3a" stroke-width="0.65" opacity="0.85"/>
<line x1="61.90" y1="507.00" x2="64.10" y2="507.00" stroke="#cc1f3a" stroke-width="0.65" opacity="0.85"/>
<line x1="78.50" y1="496.00" x2="78.50" y2="506.00" stroke="#cc1f3a" stroke-width="0.65" opacity="0.85"/>
<line x1="77.40" y1="496.00" x2="79.60" y2="496.00" stroke="#cc1f3a" stroke-width="0.65" opacity="0.85"/>
<line x1="77.40" y1="506.00" x2="79.60" y2="506.00" stroke="#cc1f3a" stroke-width="0.65" opacity="0.85"/>
<line x1="94.00" y1="482.00" x2="94.00" y2="490.00" stroke="#cc1f3a" stroke-width="0.65" opacity="0.85"/>
<line x1="92.90" y1="482.00" x2="95.10" y2="482.00" stroke="#cc1f3a" stroke-width="0.65" opacity="0.85"/>
<line x1="92.90" y1="490.00" x2="95.10" y2="490.00" stroke="#cc1f3a" stroke-width="0.65" opacity="0.85"/>
<line x1="109.50" y1="473.00" x2="109.50" y2="490.00" stroke="#cc1f3a" stroke-width="0.65" opacity="0.85"/>
<line x1="108.40" y1="473.00" x2="110.60" y2="473.00" stroke="#cc1f3a" stroke-width="0.65" opacity="0.85"/>
<line x1="108.40" y1="490.00" x2="110.60" y2="490.00" stroke="#cc1f3a" stroke-width="0.65" opacity="0.85"/>
<line x1="124.50" y1="459.00" x2="124.50" y2="468.00" stroke="#cc1f3a" stroke-width="0.65" opacity="0.85"/>
<line x1="123.40" y1="459.00" x2="125.60" y2="459.00" stroke="#cc1f3a" stroke-width="0.65" opacity="0.85"/>
<line x1="123.40" y1="468.00" x2="125.60" y2="468.00" stroke="#cc1f3a" stroke-width="0.65" opacity="0.85"/>
<line x1="140.00" y1="450.00" x2="140.00" y2="467.00" stroke="#cc1f3a" stroke-width="0.65" opacity="0.85"/>
<line x1="138.90" y1="450.00" x2="141.10" y2="450.00" stroke="#cc1f3a" stroke-width="0.65" opacity="0.85"/>
<line x1="138.90" y1="467.00" x2="141.10" y2="467.00" stroke="#cc1f3a" stroke-width="0.65" opacity="0.85"/>
<line x1="155.50" y1="442.00" x2="155.50" y2="450.00" stroke="#cc1f3a" stroke-width="0.65" opacity="0.85"/>
<line x1="154.40" y1="442.00" x2="156.60" y2="442.00" stroke="#cc1f3a" stroke-width="0.65" opacity="0.85"/>
<line x1="154.40" y1="450.00" x2="156.60" y2="450.00" stroke="#cc1f3a" stroke-width="0.65" opacity="0.85"/>
<line x1="171.00" y1="440.00" x2="171.00" y2="455.00" stroke="#cc1f3a" stroke-width="0.65" opacity="0.85"/>
<line x1="169.90" y1="440.00" x2="172.10" y2="440.00" stroke="#cc1f3a" stroke-width="0.65" opacity="0.85"/>
<line x1="169.90" y1="455.00" x2="172.10" y2="455.00" stroke="#cc1f3a" stroke-width="0.65" opacity="0.85"/>
<line x1="186.50" y1="429.00" x2="186.50" y2="442.00" stroke="#cc1f3a" stroke-width="0.65" opacity="0.85"/>
<line x1="185.40" y1="429.00" x2="187.60" y2="429.00" stroke="#cc1f3a" stroke-width="0.65" opacity="0.85"/>
<line x1="185.40" y1="442.00" x2="187.60" y2="442.00" stroke="#cc1f3a" stroke-width="0.65" opacity="0.85"/>
<line x1="202.00" y1="421.50" x2="202.00" y2="425.00" stroke="#cc1f3a" stroke-width="0.65" opacity="0.85"/>
<line x1="200.90" y1="421.50" x2="203.10" y2="421.50" stroke="#cc1f3a" stroke-width="0.65" opacity="0.85"/>
<line x1="200.90" y1="425.00" x2="203.10" y2="425.00" stroke="#cc1f3a" stroke-width="0.65" opacity="0.85"/>
<polyline points="63.00,502.92 78.50,500.02 94.00,486.79 109.50,477.43 124.50,463.88 140.00,455.66 155.50,446.95 171.00,444.04 186.50,432.75 202.00,423.24" fill="none" stroke="#cc1f3a" stroke-width="1.15" />
<rect x="61.10" y="501.02" width="3.80" height="3.80" fill="#cc1f3a"/>
<rect x="76.60" y="498.12" width="3.80" height="3.80" fill="#cc1f3a"/>
<rect x="92.10" y="484.89" width="3.80" height="3.80" fill="#cc1f3a"/>
<rect x="107.60" y="475.53" width="3.80" height="3.80" fill="#cc1f3a"/>
<rect x="122.60" y="461.98" width="3.80" height="3.80" fill="#cc1f3a"/>
<rect x="138.10" y="453.76" width="3.80" height="3.80" fill="#cc1f3a"/>
<rect x="153.60" y="445.05" width="3.80" height="3.80" fill="#cc1f3a"/>
<rect x="169.10" y="442.14" width="3.80" height="3.80" fill="#cc1f3a"/>
<rect x="184.60" y="430.85" width="3.80" height="3.80" fill="#cc1f3a"/>
<rect x="200.10" y="421.34" width="3.80" height="3.80" fill="#cc1f3a"/>
<line x1="152.30" y1="491.00" x2="160.30" y2="491.00" stroke="#cc1f3a" stroke-width="1" />
<rect x="154.70" y="489.40" width="3.20" height="3.20" fill="#cc1f3a"/>
<text x="163.30" y="493.20" font-size="6.6" text-anchor="start" fill="#333" font-weight="normal" >70-IL15</text>
<line x1="152.30" y1="499.30" x2="160.30" y2="499.30" stroke="#245a8c" stroke-width="1" />
<path d="M154.54,500.74 L156.30,497.38 L158.06,500.74 Z" fill="#245a8c"/>
<text x="163.30" y="501.50" font-size="6.6" text-anchor="start" fill="#333" font-weight="normal" >19-IL15</text>
<line x1="152.30" y1="507.50" x2="160.30" y2="507.50" stroke="#5cb85c" stroke-width="1" />
<path d="M154.54,506.06 L156.30,509.42 L158.06,506.06 Z" fill="#5cb85c"/>
<text x="163.30" y="509.70" font-size="6.6" text-anchor="start" fill="#333" font-weight="normal" >NT-NK</text>
<path d="M187.5,490.5 H190.6 V508.9 H187.5" fill="none" stroke="#2a2a2a" stroke-width="0.85"/>
<path d="M187.5,499.5 H190.6" fill="none" stroke="#2a2a2a" stroke-width="1.1"/>
<path d="M193.75,490.5 H200.6 V512 H193.75" fill="none" stroke="#2a2a2a" stroke-width="0.85"/>
<circle cx="194.00" cy="492.10" r="0.72" fill="#1a1a1a"/>
<circle cx="194.00" cy="494.20" r="0.72" fill="#1a1a1a"/>
<circle cx="194.00" cy="496.30" r="0.72" fill="#1a1a1a"/>
<circle cx="194.00" cy="498.40" r="0.72" fill="#1a1a1a"/>
<text transform="translate(195.45,504.80) rotate(-90)" font-size="5.4" text-anchor="middle" fill="#333">ns</text>
<circle cx="204.00" cy="497.30" r="0.72" fill="#1a1a1a"/>
<circle cx="204.00" cy="499.60" r="0.72" fill="#1a1a1a"/>
<circle cx="204.00" cy="501.90" r="0.72" fill="#1a1a1a"/>
<circle cx="204.00" cy="504.20" r="0.72" fill="#1a1a1a"/>
<text x="128.50" y="568.20" font-size="8.35" text-anchor="middle" fill="#222" font-weight="normal" >Overall Survival</text>
<line x1="47.50" y1="672.50" x2="47.50" y2="576.75" stroke="#2a2a2a" stroke-width="1.5" />
<line x1="44.50" y1="672.50" x2="47.50" y2="672.50" stroke="#2a2a2a" stroke-width="1" />
<text x="41.60" y="674.70" font-size="6.3" text-anchor="end" fill="#333" font-weight="normal" >0</text>
<line x1="44.50" y1="653.35" x2="47.50" y2="653.35" stroke="#2a2a2a" stroke-width="1" />
<text x="41.60" y="655.55" font-size="6.3" text-anchor="end" fill="#333" font-weight="normal" >20</text>
<line x1="44.50" y1="634.20" x2="47.50" y2="634.20" stroke="#2a2a2a" stroke-width="1" />
<text x="41.60" y="636.40" font-size="6.3" text-anchor="end" fill="#333" font-weight="normal" >40</text>
<line x1="44.50" y1="615.05" x2="47.50" y2="615.05" stroke="#2a2a2a" stroke-width="1" />
<text x="41.60" y="617.25" font-size="6.3" text-anchor="end" fill="#333" font-weight="normal" >60</text>
<line x1="44.50" y1="595.90" x2="47.50" y2="595.90" stroke="#2a2a2a" stroke-width="1" />
<text x="41.60" y="598.10" font-size="6.3" text-anchor="end" fill="#333" font-weight="normal" >80</text>
<line x1="44.50" y1="576.75" x2="47.50" y2="576.75" stroke="#2a2a2a" stroke-width="1" />
<text x="41.60" y="578.95" font-size="6.3" text-anchor="end" fill="#333" font-weight="normal" >100</text>
<line x1="47.50" y1="672.50" x2="208.40" y2="672.50" stroke="#2a2a2a" stroke-width="1.6" />
<line x1="47.50" y1="672.50" x2="47.50" y2="675.30" stroke="#2a2a2a" stroke-width="1" />
<text x="47.50" y="684.80" font-size="6.3" text-anchor="middle" fill="#333" font-weight="normal" >0</text>
<line x1="63.31" y1="672.50" x2="63.31" y2="675.30" stroke="#2a2a2a" stroke-width="1" />
<text x="63.31" y="684.80" font-size="6.3" text-anchor="middle" fill="#333" font-weight="normal" >5</text>
<line x1="79.12" y1="672.50" x2="79.12" y2="675.30" stroke="#2a2a2a" stroke-width="1" />
<text x="79.12" y="684.80" font-size="6.3" text-anchor="middle" fill="#333" font-weight="normal" >10</text>
<line x1="94.93" y1="672.50" x2="94.93" y2="675.30" stroke="#2a2a2a" stroke-width="1" />
<text x="94.93" y="684.80" font-size="6.3" text-anchor="middle" fill="#333" font-weight="normal" >15</text>
<line x1="110.74" y1="672.50" x2="110.74" y2="675.30" stroke="#2a2a2a" stroke-width="1" />
<text x="110.74" y="684.80" font-size="6.3" text-anchor="middle" fill="#333" font-weight="normal" >20</text>
<line x1="126.55" y1="672.50" x2="126.55" y2="675.30" stroke="#2a2a2a" stroke-width="1" />
<text x="126.55" y="684.80" font-size="6.3" text-anchor="middle" fill="#333" font-weight="normal" >25</text>
<line x1="142.36" y1="672.50" x2="142.36" y2="675.30" stroke="#2a2a2a" stroke-width="1" />
<text x="142.36" y="684.80" font-size="6.3" text-anchor="middle" fill="#333" font-weight="normal" >30</text>
<line x1="158.17" y1="672.50" x2="158.17" y2="675.30" stroke="#2a2a2a" stroke-width="1" />
<text x="158.17" y="684.80" font-size="6.3" text-anchor="middle" fill="#333" font-weight="normal" >35</text>
<line x1="173.98" y1="672.50" x2="173.98" y2="675.30" stroke="#2a2a2a" stroke-width="1" />
<text x="173.98" y="684.80" font-size="6.3" text-anchor="middle" fill="#333" font-weight="normal" >40</text>
<line x1="189.79" y1="672.50" x2="189.79" y2="675.30" stroke="#2a2a2a" stroke-width="1" />
<text x="189.79" y="684.80" font-size="6.3" text-anchor="middle" fill="#333" font-weight="normal" >45</text>
<line x1="205.60" y1="672.50" x2="205.60" y2="675.30" stroke="#2a2a2a" stroke-width="1" />
<text x="205.60" y="684.80" font-size="6.3" text-anchor="middle" fill="#333" font-weight="normal" >50</text>
<text x="212.10" y="684.80" font-size="6.3" text-anchor="start" fill="#333" font-weight="normal" >(Days)</text>
<text transform="translate(24.90,623.10) rotate(-90) scale(0.725,1)" font-size="8.4" text-anchor="middle" fill="#2a2a2a" font-weight="normal">Probability of survival (%)</text>
<line x1="47.50" y1="624.62" x2="206.00" y2="624.62" stroke="#888" stroke-width="0.6" />
<polyline points="47.50,576.75 113.90,576.75 113.90,576.75 113.90,576.75 113.90,634.20 120.23,634.20 120.23,634.20 120.23,634.20 120.23,653.35 133.51,653.35 133.51,653.35 133.51,653.35 133.51,672.50" fill="none" stroke="#5cb85c" stroke-width="1.1" />
<polyline points="47.50,576.75 138.88,576.75 138.88,576.75 138.88,576.75 138.88,595.90 142.68,595.90 142.68,595.90 142.68,595.90 142.68,615.05 198.96,615.05 198.96,615.05 198.96,615.05 198.96,653.35 205.60,653.35 205.60,653.35 205.60,653.35 205.60,672.50" fill="none" stroke="#cc1f3a" stroke-width="1.1" />
<polyline points="47.50,576.75 126.87,576.75 126.87,576.75 126.87,576.75 126.87,595.90 129.40,595.90 129.40,595.90 129.40,595.90 129.40,634.20 145.52,634.20 145.52,634.20 145.52,634.20 145.52,653.35 149.32,653.35 149.32,653.35 149.32,653.35 149.32,672.50" fill="none" stroke="#245a8c" stroke-width="1.1" />
<line x1="120.20" y1="635.40" x2="199.10" y2="635.40" stroke="#555" stroke-width="1.4" />
<line x1="120.20" y1="644.30" x2="145.60" y2="644.30" stroke="#555" stroke-width="1.4" />
<line x1="145.60" y1="651.70" x2="199.10" y2="651.70" stroke="#555" stroke-width="1.4" />
<text x="172.30" y="634.60" font-size="6" text-anchor="middle" fill="#333" font-weight="normal" >**</text>
<text x="133.60" y="643.60" font-size="6" text-anchor="middle" fill="#333" font-weight="normal" >*</text>
<text x="172.30" y="650.60" font-size="6" text-anchor="middle" fill="#333" font-weight="normal" >**</text>
<line x1="147.00" y1="581.30" x2="155.30" y2="581.30" stroke="#cc1f3a" stroke-width="1" />
<line x1="151.10" y1="580.10" x2="151.10" y2="582.50" stroke="#cc1f3a" stroke-width="0.8" />
<text x="157.80" y="583.60" font-size="6.45" text-anchor="start" fill="#333" font-weight="normal" >70-IL15 (MS: 48days)</text>
<line x1="147.00" y1="589.40" x2="155.30" y2="589.40" stroke="#245a8c" stroke-width="1" />
<line x1="151.10" y1="588.20" x2="151.10" y2="590.60" stroke="#245a8c" stroke-width="0.8" />
<text x="157.80" y="591.70" font-size="6.45" text-anchor="start" fill="#333" font-weight="normal" >19-IL15 (MS: 26days)</text>
<line x1="147.00" y1="597.50" x2="155.30" y2="597.50" stroke="#5cb85c" stroke-width="1" />
<line x1="151.10" y1="596.30" x2="151.10" y2="598.70" stroke="#5cb85c" stroke-width="0.8" />
<text x="157.80" y="599.80" font-size="6.45" text-anchor="start" fill="#333" font-weight="normal" >NT-NK (MS: 21days)</text>
<g filter="url(#soft)">
<text x="315.80" y="28.00" font-size="6.4" text-anchor="middle" fill="#262626" font-weight="normal" >70-IL15</text>
<text x="377.00" y="28.00" font-size="6.4" text-anchor="middle" fill="#262626" font-weight="normal" >19-IL15</text>
<text x="437.50" y="28.00" font-size="6.4" text-anchor="middle" fill="#262626" font-weight="normal" >NT-NK</text>
<text x="284.30" y="44.90" font-size="6.55" text-anchor="end" fill="#262626" font-weight="normal" >D3</text>
<rect x="288.60" y="31.00" width="53.80" height="22.00" fill="#121212"/>
<rect x="288.60" y="49.80" width="53.80" height="3.2" fill="#2a2a2a"/>
<line x1="293.90" y1="49.55" x2="293.94" y2="52.40" stroke="#9a9a9a" stroke-width="0.8" />
<use href="#mz" transform="translate(293.93,32.65) scale(4.668,17.400)" fill="url(#mg)"/>
<line x1="304.96" y1="49.26" x2="305.30" y2="52.40" stroke="#9a9a9a" stroke-width="0.8" />
<use href="#mz" transform="translate(304.83,32.36) scale(4.555,17.400)" fill="url(#mg)"/>
<line x1="315.40" y1="48.96" x2="315.40" y2="52.40" stroke="#9a9a9a" stroke-width="0.8" />
<use href="#mz" transform="translate(315.09,32.06) scale(4.591,17.400)" fill="url(#mg)"/>
<line x1="325.96" y1="49.58" x2="325.99" y2="52.40" stroke="#9a9a9a" stroke-width="0.8" />
<use href="#mz" transform="translate(325.80,32.68) scale(4.795,17.400)" fill="url(#mg)"/>
<line x1="336.24" y1="49.27" x2="336.18" y2="52.40" stroke="#9a9a9a" stroke-width="0.8" />
<use href="#mz" transform="translate(336.68,32.37) scale(4.505,17.400)" fill="url(#mg)"/>
<ellipse cx="337.13" cy="45.62" rx="1.06" ry="1.27" fill="#3c2c88" opacity="0.8"/>
<rect x="350.80" y="31.00" width="52.40" height="22.00" fill="#141414"/>
<rect x="350.80" y="49.80" width="52.40" height="3.2" fill="#2a2a2a"/>
<line x1="355.24" y1="49.11" x2="355.07" y2="52.40" stroke="#9a9a9a" stroke-width="0.8" />
<use href="#mz" transform="translate(355.74,32.21) scale(4.531,17.400)" fill="url(#mg)"/>
<line x1="367.11" y1="49.29" x2="366.01" y2="52.40" stroke="#9a9a9a" stroke-width="0.8" />
<use href="#mz" transform="translate(366.67,32.39) scale(4.583,17.400)" fill="url(#mg)"/>
<ellipse cx="365.83" cy="41.81" rx="1.03" ry="0.86" fill="#3c2c88" opacity="0.8"/>
<ellipse cx="367.90" cy="43.00" rx="1.48" ry="1.11" fill="#3c2c88" opacity="0.8"/>
<line x1="377.17" y1="48.90" x2="378.11" y2="52.40" stroke="#9a9a9a" stroke-width="0.8" />
<use href="#mz" transform="translate(377.46,32.00) scale(4.715,17.400)" fill="url(#mg)"/>
<ellipse cx="376.87" cy="44.76" rx="1.14" ry="1.25" fill="#3c2c88" opacity="0.8"/>
<ellipse cx="376.04" cy="44.53" rx="1.07" ry="1.05" fill="#3c2c88" opacity="0.8"/>
<line x1="386.63" y1="49.55" x2="387.33" y2="52.40" stroke="#9a9a9a" stroke-width="0.8" />
<use href="#mz" transform="translate(387.00,32.65) scale(4.584,17.400)" fill="url(#mg)"/>
<line x1="397.65" y1="49.24" x2="396.97" y2="52.40" stroke="#9a9a9a" stroke-width="0.8" />
<use href="#mz" transform="translate(397.47,32.34) scale(4.601,17.400)" fill="url(#mg)"/>
<rect x="410.80" y="31.00" width="54.20" height="22.00" fill="#141414"/>
<rect x="410.80" y="49.80" width="54.20" height="3.2" fill="#2a2a2a"/>
<line x1="416.15" y1="49.44" x2="416.04" y2="52.40" stroke="#9a9a9a" stroke-width="0.8" />
<use href="#mz" transform="translate(416.23,32.54) scale(4.796,17.400)" fill="url(#mg)"/>
<line x1="427.32" y1="48.90" x2="427.71" y2="52.40" stroke="#9a9a9a" stroke-width="0.8" />
<use href="#mz" transform="translate(426.95,32.00) scale(4.797,17.400)" fill="url(#mg)"/>
<line x1="437.68" y1="48.91" x2="438.79" y2="52.40" stroke="#9a9a9a" stroke-width="0.8" />
<use href="#mz" transform="translate(437.99,32.01) scale(4.799,17.400)" fill="url(#mg)"/>
<line x1="448.49" y1="48.93" x2="448.75" y2="52.40" stroke="#9a9a9a" stroke-width="0.8" />
<use href="#mz" transform="translate(448.84,32.03) scale(4.673,17.400)" fill="url(#mg)"/>
<line x1="458.98" y1="49.48" x2="458.41" y2="52.40" stroke="#9a9a9a" stroke-width="0.8" />
<use href="#mz" transform="translate(459.09,32.58) scale(4.683,17.400)" fill="url(#mg)"/>
<ellipse cx="459.48" cy="42.10" rx="1.28" ry="1.10" fill="#3c2c88" opacity="0.8"/>
<text x="284.30" y="76.85" font-size="6.55" text-anchor="end" fill="#262626" font-weight="normal" >D7</text>
<rect x="288.60" y="60.00" width="53.80" height="23.50" fill="#121212"/>
<rect x="288.60" y="80.30" width="53.80" height="3.2" fill="#2a2a2a"/>
<line x1="294.01" y1="79.44" x2="294.52" y2="82.90" stroke="#9a9a9a" stroke-width="0.8" />
<use href="#mz" transform="translate(293.93,61.34) scale(4.788,18.600)" fill="url(#mg)"/>
<line x1="304.74" y1="79.74" x2="304.02" y2="82.90" stroke="#9a9a9a" stroke-width="0.8" />
<use href="#mz" transform="translate(304.42,61.64) scale(4.546,18.600)" fill="url(#mg)"/>
<line x1="314.89" y1="79.76" x2="315.91" y2="82.90" stroke="#9a9a9a" stroke-width="0.8" />
<use href="#mz" transform="translate(315.19,61.66) scale(4.722,18.600)" fill="url(#mg)"/>
<ellipse cx="315.68" cy="73.16" rx="0.88" ry="0.83" fill="#3c2c88" opacity="0.8"/>
<ellipse cx="317.37" cy="71.80" rx="1.36" ry="1.01" fill="#3c2c88" opacity="0.8"/>
<line x1="326.26" y1="79.31" x2="326.94" y2="82.90" stroke="#9a9a9a" stroke-width="0.8" />
<use href="#mz" transform="translate(326.58,61.21) scale(4.679,18.600)" fill="url(#mg)"/>
<line x1="336.94" y1="79.49" x2="336.77" y2="82.90" stroke="#9a9a9a" stroke-width="0.8" />
<use href="#mz" transform="translate(336.59,61.39) scale(4.569,18.600)" fill="url(#mg)"/>
<ellipse cx="335.27" cy="76.57" rx="1.40" ry="0.86" fill="#3c2c88" opacity="0.8"/>
<ellipse cx="336.18" cy="71.61" rx="0.84" ry="1.03" fill="#3c2c88" opacity="0.8"/>
<rect x="350.80" y="60.00" width="52.40" height="23.50" fill="#141414"/>
<rect x="350.80" y="80.30" width="52.40" height="3.2" fill="#2a2a2a"/>
<line x1="355.71" y1="79.16" x2="355.99" y2="82.90" stroke="#9a9a9a" stroke-width="0.8" />
<use href="#mz" transform="translate(356.07,61.06) scale(4.753,18.600)" fill="url(#mg)"/>
<ellipse cx="356.89" cy="74.36" rx="1.74" ry="1.23" fill="#a83040" opacity="0.75"/>
<ellipse cx="358.29" cy="71.94" rx="1.49" ry="1.38" fill="#a83040" opacity="0.75"/>
<ellipse cx="353.57" cy="73.74" rx="1.63" ry="1.76" fill="#4a34a8" opacity="0.75"/>
<line x1="366.02" y1="79.42" x2="365.43" y2="82.90" stroke="#9a9a9a" stroke-width="0.8" />
<use href="#mz" transform="translate(366.16,61.32) scale(4.483,18.600)" fill="url(#mg)"/>
<ellipse cx="367.33" cy="68.34" rx="2.16" ry="1.41" fill="#a83040" opacity="0.75"/>
<ellipse cx="367.07" cy="76.95" rx="2.06" ry="1.48" fill="#a83040" opacity="0.75"/>
<ellipse cx="367.95" cy="73.29" rx="1.79" ry="1.44" fill="#5a3cb0" opacity="0.75"/>
<ellipse cx="363.75" cy="67.70" rx="1.20" ry="1.20" fill="#4a34a8" opacity="0.75"/>
<line x1="377.61" y1="79.37" x2="377.51" y2="82.90" stroke="#9a9a9a" stroke-width="0.8" />
<use href="#mz" transform="translate(377.38,61.27) scale(4.680,18.600)" fill="url(#mg)"/>
<ellipse cx="377.19" cy="72.89" rx="1.67" ry="1.56" fill="#4a34a8" opacity="0.75"/>
<ellipse cx="377.90" cy="72.22" rx="1.35" ry="1.73" fill="#903858" opacity="0.75"/>
<ellipse cx="378.82" cy="74.22" rx="1.63" ry="1.91" fill="#4a34a8" opacity="0.75"/>
<line x1="386.95" y1="79.24" x2="387.93" y2="82.90" stroke="#9a9a9a" stroke-width="0.8" />
<use href="#mz" transform="translate(387.28,61.14) scale(4.665,18.600)" fill="url(#mg)"/>
<ellipse cx="389.49" cy="72.28" rx="1.37" ry="1.46" fill="#4a34a8" opacity="0.75"/>
<ellipse cx="385.73" cy="71.53" rx="1.99" ry="1.92" fill="#b05a38" opacity="0.75"/>
<ellipse cx="386.69" cy="73.23" rx="1.45" ry="1.22" fill="#903858" opacity="0.75"/>
<ellipse cx="386.52" cy="76.72" rx="1.14" ry="1.16" fill="#4a34a8" opacity="0.75"/>
<line x1="398.71" y1="79.43" x2="398.81" y2="82.90" stroke="#9a9a9a" stroke-width="0.8" />
<use href="#mz" transform="translate(398.28,61.33) scale(4.495,18.600)" fill="url(#mg)"/>
<ellipse cx="398.90" cy="72.42" rx="1.45" ry="1.86" fill="#5a3cb0" opacity="0.75"/>
<ellipse cx="398.05" cy="67.74" rx="1.13" ry="1.89" fill="#a83040" opacity="0.75"/>
<ellipse cx="399.16" cy="70.05" rx="1.49" ry="1.68" fill="#5a3cb0" opacity="0.75"/>
<rect x="410.80" y="60.00" width="54.20" height="23.50" fill="#141414"/>
<rect x="410.80" y="80.30" width="54.20" height="3.2" fill="#2a2a2a"/>
<line x1="415.26" y1="79.42" x2="416.27" y2="82.90" stroke="#9a9a9a" stroke-width="0.8" />
<use href="#mz" transform="translate(415.74,61.32) scale(4.541,18.600)" fill="url(#mg)"/>
<ellipse cx="417.13" cy="75.79" rx="2.18" ry="1.20" fill="#a83040" opacity="0.75"/>
<ellipse cx="416.39" cy="74.21" rx="1.99" ry="1.96" fill="#4a34a8" opacity="0.75"/>
<line x1="426.97" y1="79.28" x2="427.17" y2="82.90" stroke="#9a9a9a" stroke-width="0.8" />
<use href="#mz" transform="translate(426.76,61.18) scale(4.747,18.600)" fill="url(#mg)"/>
<ellipse cx="427.88" cy="68.76" rx="1.40" ry="1.41" fill="#4a34a8" opacity="0.75"/>
<ellipse cx="429.09" cy="72.34" rx="2.20" ry="1.24" fill="#4a34a8" opacity="0.75"/>
<ellipse cx="428.88" cy="67.73" rx="2.13" ry="1.75" fill="#b05a38" opacity="0.75"/>
<ellipse cx="426.50" cy="68.96" rx="2.08" ry="1.11" fill="#5a3cb0" opacity="0.75"/>
<line x1="438.41" y1="79.66" x2="437.91" y2="82.90" stroke="#9a9a9a" stroke-width="0.8" />
<use href="#mz" transform="translate(437.97,61.56) scale(4.764,18.600)" fill="url(#mg)"/>
<ellipse cx="440.50" cy="68.24" rx="2.05" ry="1.82" fill="#4a34a8" opacity="0.75"/>
<ellipse cx="436.00" cy="69.84" rx="1.53" ry="1.18" fill="#4a34a8" opacity="0.75"/>
<ellipse cx="438.16" cy="75.96" rx="1.45" ry="1.92" fill="#a83040" opacity="0.75"/>
<ellipse cx="437.17" cy="68.06" rx="1.58" ry="1.60" fill="#4a34a8" opacity="0.75"/>
<line x1="448.29" y1="79.67" x2="449.21" y2="82.90" stroke="#9a9a9a" stroke-width="0.8" />
<use href="#mz" transform="translate(448.73,61.57) scale(4.509,18.600)" fill="url(#mg)"/>
<ellipse cx="448.89" cy="74.81" rx="2.11" ry="1.52" fill="#5a3cb0" opacity="0.75"/>
<ellipse cx="450.71" cy="72.93" rx="1.85" ry="1.50" fill="#903858" opacity="0.75"/>
<line x1="459.60" y1="79.63" x2="459.75" y2="82.90" stroke="#9a9a9a" stroke-width="0.8" />
<use href="#mz" transform="translate(459.66,61.53) scale(4.707,18.600)" fill="url(#mg)"/>
<ellipse cx="459.98" cy="68.94" rx="1.67" ry="1.92" fill="#4a34a8" opacity="0.75"/>
<ellipse cx="458.68" cy="71.36" rx="2.03" ry="1.91" fill="#b05a38" opacity="0.75"/>
<ellipse cx="458.65" cy="68.69" rx="1.70" ry="1.35" fill="#903858" opacity="0.75"/>
<ellipse cx="458.11" cy="73.09" rx="1.65" ry="1.64" fill="#a83040" opacity="0.75"/>
<text x="284.30" y="103.05" font-size="6.55" text-anchor="end" fill="#262626" font-weight="normal" >D14</text>
<rect x="288.60" y="89.00" width="53.80" height="22.50" fill="#121212"/>
<rect x="288.60" y="108.30" width="53.80" height="3.2" fill="#2a2a2a"/>
<line x1="294.06" y1="108.04" x2="294.80" y2="110.90" stroke="#9a9a9a" stroke-width="0.8" />
<use href="#mz" transform="translate(294.02,90.64) scale(4.513,17.900)" fill="url(#mg)"/>
<line x1="304.79" y1="107.52" x2="304.30" y2="110.90" stroke="#9a9a9a" stroke-width="0.8" />
<use href="#mz" transform="translate(304.36,90.12) scale(4.528,17.900)" fill="url(#mg)"/>
<line x1="315.67" y1="107.68" x2="315.91" y2="110.90" stroke="#9a9a9a" stroke-width="0.8" />
<use href="#mz" transform="translate(315.92,90.28) scale(4.740,17.900)" fill="url(#mg)"/>
<line x1="326.52" y1="108.05" x2="326.14" y2="110.90" stroke="#9a9a9a" stroke-width="0.8" />
<use href="#mz" transform="translate(326.10,90.65) scale(4.770,17.900)" fill="url(#mg)"/>
<line x1="336.39" y1="107.42" x2="336.95" y2="110.90" stroke="#9a9a9a" stroke-width="0.8" />
<use href="#mz" transform="translate(336.63,90.02) scale(4.626,17.900)" fill="url(#mg)"/>
<rect x="350.80" y="89.00" width="52.40" height="22.50" fill="#141414"/>
<rect x="350.80" y="108.30" width="52.40" height="3.2" fill="#2a2a2a"/>
<line x1="356.03" y1="107.51" x2="356.17" y2="110.90" stroke="#9a9a9a" stroke-width="0.8" />
<use href="#mz" transform="translate(356.52,90.11) scale(4.472,17.900)" fill="url(#mg)"/>
<ellipse cx="355.37" cy="101.28" rx="2.10" ry="1.94" fill="#3a2296" opacity="0.85"/>
<ellipse cx="358.09" cy="102.51" rx="2.40" ry="2.07" fill="#3a2296" opacity="0.85"/>
<ellipse cx="358.21" cy="96.60" rx="2.29" ry="2.21" fill="#3a2296" opacity="0.85"/>
<line x1="366.67" y1="108.00" x2="366.19" y2="110.90" stroke="#9a9a9a" stroke-width="0.8" />
<use href="#mz" transform="translate(366.64,90.60) scale(4.623,17.900)" fill="url(#mg)"/>
<ellipse cx="368.26" cy="102.89" rx="2.60" ry="1.56" fill="#3a2296" opacity="0.85"/>
<ellipse cx="367.75" cy="104.85" rx="2.66" ry="1.65" fill="#3a2296" opacity="0.85"/>
<line x1="377.31" y1="107.55" x2="377.44" y2="110.90" stroke="#9a9a9a" stroke-width="0.8" />
<use href="#mz" transform="translate(376.81,90.15) scale(4.738,17.900)" fill="url(#mg)"/>
<line x1="386.87" y1="107.91" x2="386.47" y2="110.90" stroke="#9a9a9a" stroke-width="0.8" />
<use href="#mz" transform="translate(387.11,90.51) scale(4.533,17.900)" fill="url(#mg)"/>
<ellipse cx="387.31" cy="103.71" rx="1.68" ry="1.99" fill="#3a2296" opacity="0.85"/>
<ellipse cx="388.47" cy="97.72" rx="2.20" ry="1.69" fill="#3a2296" opacity="0.85"/>
<ellipse cx="388.57" cy="100.33" rx="2.39" ry="2.00" fill="#3a2296" opacity="0.85"/>
<line x1="398.11" y1="107.98" x2="397.77" y2="110.90" stroke="#9a9a9a" stroke-width="0.8" />
<use href="#mz" transform="translate(397.80,90.58) scale(4.761,17.900)" fill="url(#mg)"/>
<rect x="410.80" y="89.00" width="54.20" height="22.50" fill="#141414"/>
<rect x="410.80" y="108.30" width="54.20" height="3.2" fill="#2a2a2a"/>
<line x1="416.15" y1="107.83" x2="415.71" y2="110.90" stroke="#9a9a9a" stroke-width="0.8" />
<use href="#mz" transform="translate(415.74,90.43) scale(4.729,17.900)" fill="url(#mg)"/>
<ellipse cx="414.25" cy="98.70" rx="2.58" ry="2.39" fill="#3a2296" opacity="0.85"/>
<ellipse cx="417.76" cy="97.63" rx="1.49" ry="2.35" fill="#3a2296" opacity="0.85"/>
<line x1="426.99" y1="107.63" x2="427.05" y2="110.90" stroke="#9a9a9a" stroke-width="0.8" />
<use href="#mz" transform="translate(427.02,90.23) scale(4.729,17.900)" fill="url(#mg)"/>
<ellipse cx="425.65" cy="100.17" rx="2.29" ry="1.34" fill="#3a2296" opacity="0.85"/>
<ellipse cx="425.60" cy="100.51" rx="1.90" ry="1.71" fill="#3a2296" opacity="0.85"/>
<ellipse cx="429.02" cy="102.45" rx="1.53" ry="2.17" fill="#3a2296" opacity="0.85"/>
<line x1="438.10" y1="107.99" x2="438.38" y2="110.90" stroke="#9a9a9a" stroke-width="0.8" />
<use href="#mz" transform="translate(437.72,90.59) scale(4.525,17.900)" fill="url(#mg)"/>
<ellipse cx="438.04" cy="98.73" rx="2.22" ry="1.68" fill="#3a2296" opacity="0.85"/>
<ellipse cx="438.91" cy="99.61" rx="1.56" ry="2.12" fill="#3a2296" opacity="0.85"/>
<ellipse cx="436.19" cy="106.05" rx="1.59" ry="1.66" fill="#3a2296" opacity="0.85"/>
<line x1="448.46" y1="107.70" x2="448.31" y2="110.90" stroke="#9a9a9a" stroke-width="0.8" />
<use href="#mz" transform="translate(448.78,90.30) scale(4.611,17.900)" fill="url(#mg)"/>
<line x1="458.87" y1="107.61" x2="459.89" y2="110.90" stroke="#9a9a9a" stroke-width="0.8" />
<use href="#mz" transform="translate(459.26,90.21) scale(4.739,17.900)" fill="url(#mg)"/>
<ellipse cx="458.00" cy="105.78" rx="2.33" ry="1.67" fill="#3a2296" opacity="0.85"/>
<ellipse cx="460.02" cy="102.08" rx="2.15" ry="1.73" fill="#3a2296" opacity="0.85"/>
<text x="284.30" y="134.00" font-size="6.55" text-anchor="end" fill="#262626" font-weight="normal" >D21</text>
<rect x="288.60" y="117.50" width="53.80" height="26.00" fill="#2c2c2c"/>
<rect x="288.60" y="140.30" width="53.80" height="3.2" fill="#404040"/>
<line x1="294.74" y1="137.09" x2="295.25" y2="142.90" stroke="#9a9a9a" stroke-width="0.8" />
<use href="#mz" transform="translate(294.48,118.99) scale(4.693,18.600)" fill="url(#mg2)"/>
<line x1="304.02" y1="137.12" x2="304.11" y2="142.90" stroke="#9a9a9a" stroke-width="0.8" />
<use href="#mz" transform="translate(304.26,119.02) scale(4.685,18.600)" fill="url(#mg2)"/>
<line x1="314.65" y1="136.86" x2="314.65" y2="142.90" stroke="#9a9a9a" stroke-width="0.8" />
<use href="#mz" transform="translate(315.05,118.76) scale(4.559,18.600)" fill="url(#mg2)"/>
<line x1="327.13" y1="136.96" x2="326.77" y2="142.90" stroke="#9a9a9a" stroke-width="0.8" />
<use href="#mz" transform="translate(326.67,118.86) scale(4.665,18.600)" fill="url(#mg2)"/>
<line x1="337.09" y1="137.17" x2="337.67" y2="142.90" stroke="#9a9a9a" stroke-width="0.8" />
<use href="#mz" transform="translate(337.52,119.07) scale(4.691,18.600)" fill="url(#mg2)"/>
<rect x="350.80" y="117.50" width="52.40" height="26.00" fill="#141414"/>
<rect x="350.80" y="140.30" width="52.40" height="3.2" fill="#2a2a2a"/>
<line x1="355.96" y1="137.25" x2="356.25" y2="142.90" stroke="#9a9a9a" stroke-width="0.8" />
<use href="#mz" transform="translate(356.30,119.15) scale(4.475,18.600)" fill="url(#mg)"/>
<line x1="365.75" y1="137.03" x2="366.90" y2="142.90" stroke="#9a9a9a" stroke-width="0.8" />
<use href="#mz" transform="translate(366.19,118.93) scale(4.610,18.600)" fill="url(#mg)"/>
<ellipse cx="366.19" cy="134.55" rx="4.61" ry="3.16" fill="#3a2296" opacity="0.9"/>
<ellipse cx="362.96" cy="130.09" rx="1.61" ry="3.72" fill="#3a2296" opacity="0.85"/>
<ellipse cx="365.97" cy="128.23" rx="1.88" ry="1.84" fill="#3a2296" opacity="0.8"/>
<line x1="376.93" y1="137.06" x2="376.52" y2="142.90" stroke="#9a9a9a" stroke-width="0.8" />
<use href="#mz" transform="translate(376.87,118.96) scale(4.547,18.600)" fill="url(#mg)"/>
<ellipse cx="376.87" cy="134.58" rx="4.55" ry="3.16" fill="#3a2296" opacity="0.9"/>
<ellipse cx="373.68" cy="130.12" rx="1.59" ry="3.72" fill="#3a2296" opacity="0.85"/>
<ellipse cx="377.46" cy="128.26" rx="1.63" ry="1.31" fill="#3a2296" opacity="0.8"/>
<line x1="387.48" y1="136.71" x2="387.05" y2="142.90" stroke="#9a9a9a" stroke-width="0.8" />
<use href="#mz" transform="translate(387.23,118.61) scale(4.474,18.600)" fill="url(#mg)"/>
<line x1="398.85" y1="136.64" x2="399.07" y2="142.90" stroke="#9a9a9a" stroke-width="0.8" />
<use href="#mz" transform="translate(398.36,118.54) scale(4.686,18.600)" fill="url(#mg)"/>
<rect x="410.80" y="117.50" width="54.20" height="26.00" fill="#141414"/>
<rect x="410.80" y="140.30" width="54.20" height="3.2" fill="#2a2a2a"/>
<line x1="415.77" y1="136.90" x2="416.55" y2="142.90" stroke="#9a9a9a" stroke-width="0.8" />
<use href="#mz" transform="translate(415.79,118.80) scale(4.772,18.600)" fill="url(#mg)"/>
<ellipse cx="415.79" cy="134.42" rx="4.77" ry="3.16" fill="#3a2296" opacity="0.9"/>
<ellipse cx="412.45" cy="129.96" rx="1.67" ry="3.72" fill="#3a2296" opacity="0.85"/>
<ellipse cx="415.06" cy="128.10" rx="1.88" ry="2.14" fill="#3a2296" opacity="0.8"/>
<line x1="427.60" y1="137.29" x2="427.45" y2="142.90" stroke="#9a9a9a" stroke-width="0.8" />
<use href="#mz" transform="translate(427.28,119.19) scale(4.641,18.600)" fill="url(#mg)"/>
<ellipse cx="427.28" cy="134.81" rx="4.64" ry="3.16" fill="#3a2296" opacity="0.9"/>
<ellipse cx="424.03" cy="130.35" rx="1.62" ry="3.72" fill="#3a2296" opacity="0.85"/>
<ellipse cx="426.21" cy="128.49" rx="1.99" ry="1.71" fill="#3a2296" opacity="0.8"/>
<line x1="437.23" y1="136.97" x2="437.51" y2="142.90" stroke="#9a9a9a" stroke-width="0.8" />
<use href="#mz" transform="translate(437.60,118.87) scale(4.516,18.600)" fill="url(#mg)"/>
<ellipse cx="437.60" cy="134.49" rx="4.52" ry="3.16" fill="#3a2296" opacity="0.9"/>
<ellipse cx="434.44" cy="130.03" rx="1.58" ry="3.72" fill="#3a2296" opacity="0.85"/>
<ellipse cx="438.06" cy="128.17" rx="1.80" ry="1.54" fill="#3a2296" opacity="0.8"/>
<line x1="448.85" y1="137.14" x2="449.62" y2="142.90" stroke="#9a9a9a" stroke-width="0.8" />
<use href="#mz" transform="translate(448.82,119.04) scale(4.626,18.600)" fill="url(#mg)"/>
<ellipse cx="448.82" cy="134.67" rx="4.63" ry="3.16" fill="#3a2296" opacity="0.9"/>
<ellipse cx="445.58" cy="130.20" rx="1.62" ry="3.72" fill="#3a2296" opacity="0.85"/>
<ellipse cx="450.08" cy="128.34" rx="2.11" ry="1.51" fill="#3a2296" opacity="0.8"/>
<line x1="459.32" y1="137.15" x2="458.97" y2="142.90" stroke="#9a9a9a" stroke-width="0.8" />
<use href="#mz" transform="translate(459.19,119.05) scale(4.768,18.600)" fill="url(#mg)"/>
<ellipse cx="459.19" cy="134.67" rx="4.77" ry="3.16" fill="#3a2296" opacity="0.9"/>
<ellipse cx="455.86" cy="130.21" rx="1.67" ry="3.72" fill="#3a2296" opacity="0.85"/>
<ellipse cx="458.54" cy="128.35" rx="2.05" ry="1.81" fill="#3a2296" opacity="0.8"/>
<text x="284.30" y="162.23" font-size="6.55" text-anchor="end" fill="#262626" font-weight="normal" >D28</text>
<rect x="288.60" y="148.75" width="53.80" height="21.75" fill="#1c1c1c"/>
<rect x="288.60" y="167.30" width="53.80" height="3.2" fill="#2a2a2a"/>
<line x1="293.76" y1="166.93" x2="293.67" y2="169.90" stroke="#9a9a9a" stroke-width="0.8" />
<use href="#mz" transform="translate(294.07,150.28) scale(4.690,17.150)" fill="url(#mg)"/>
<line x1="304.76" y1="167.02" x2="304.52" y2="169.90" stroke="#9a9a9a" stroke-width="0.8" />
<use href="#mz" transform="translate(305.22,150.37) scale(4.775,17.150)" fill="url(#mg)"/>
<line x1="314.87" y1="166.84" x2="315.34" y2="169.90" stroke="#9a9a9a" stroke-width="0.8" />
<use href="#mz" transform="translate(315.27,150.19) scale(4.628,17.150)" fill="url(#mg)"/>
<line x1="325.88" y1="166.87" x2="326.04" y2="169.90" stroke="#9a9a9a" stroke-width="0.8" />
<use href="#mz" transform="translate(325.83,150.22) scale(4.526,17.150)" fill="url(#mg)"/>
<line x1="336.74" y1="166.55" x2="337.28" y2="169.90" stroke="#9a9a9a" stroke-width="0.8" />
<use href="#mz" transform="translate(336.89,149.90) scale(4.644,17.150)" fill="url(#mg)"/>
<rect x="350.80" y="148.75" width="52.40" height="21.75" fill="#141414"/>
<rect x="350.80" y="167.30" width="52.40" height="3.2" fill="#2a2a2a"/>
<line x1="356.69" y1="166.48" x2="356.58" y2="169.90" stroke="#9a9a9a" stroke-width="0.8" />
<use href="#mz" transform="translate(356.38,149.83) scale(4.484,17.150)" fill="url(#mg)"/>
<use href="#mz" transform="translate(356.38,149.53) scale(5.284,17.950)" fill="#3a2296"/>
<ellipse cx="356.70" cy="155.84" rx="2.24" ry="2.74" fill="#5438c4" opacity="0.7"/>
<path d="M352.99,158.47 Q356.38,159.47 359.77,158.27 Q358.75,162.87 356.38,163.07 Q354.01,162.87 352.99,158.47 Z" fill="#eeeaf6" opacity="0.95"/>
<line x1="366.43" y1="166.66" x2="367.06" y2="169.90" stroke="#9a9a9a" stroke-width="0.8" />
<use href="#mz" transform="translate(366.28,150.01) scale(4.704,17.150)" fill="url(#mg)"/>
<use href="#mz" transform="translate(366.28,149.71) scale(5.504,17.950)" fill="#3a2296"/>
<ellipse cx="366.07" cy="156.01" rx="2.35" ry="2.74" fill="#5438c4" opacity="0.7"/>
<path d="M362.34,159.11 Q366.28,160.11 370.21,158.91 Q369.03,163.51 366.28,163.71 Q363.52,163.51 362.34,159.11 Z" fill="#eeeaf6" opacity="0.95"/>
<line x1="377.02" y1="166.66" x2="378.02" y2="169.90" stroke="#9a9a9a" stroke-width="0.8" />
<use href="#mz" transform="translate(377.42,150.01) scale(4.589,17.150)" fill="url(#mg)"/>
<use href="#mz" transform="translate(377.42,149.71) scale(5.389,17.950)" fill="#3a2296"/>
<ellipse cx="376.92" cy="156.01" rx="2.29" ry="2.74" fill="#5438c4" opacity="0.7"/>
<path d="M373.79,158.47 Q377.42,159.47 381.05,158.27 Q379.96,162.87 377.42,163.07 Q374.88,162.87 373.79,158.47 Z" fill="#eeeaf6" opacity="0.95"/>
<line x1="387.74" y1="166.61" x2="386.79" y2="169.90" stroke="#9a9a9a" stroke-width="0.8" />
<use href="#mz" transform="translate(387.46,149.96) scale(4.667,17.150)" fill="url(#mg)"/>
<use href="#mz" transform="translate(387.46,149.66) scale(5.467,17.950)" fill="#3a2296"/>
<ellipse cx="387.12" cy="155.96" rx="2.33" ry="2.74" fill="#5438c4" opacity="0.7"/>
<path d="M384.34,159.21 Q387.46,160.21 390.59,159.01 Q389.65,163.61 387.46,163.81 Q385.27,163.61 384.34,159.21 Z" fill="#eeeaf6" opacity="0.95"/>
<line x1="397.55" y1="166.89" x2="397.19" y2="169.90" stroke="#9a9a9a" stroke-width="0.8" />
<use href="#mz" transform="translate(397.76,150.24) scale(4.679,17.150)" fill="url(#mg)"/>
<use href="#mz" transform="translate(397.76,149.94) scale(5.479,17.950)" fill="#3a2296"/>
<ellipse cx="397.59" cy="156.24" rx="2.34" ry="2.74" fill="#5438c4" opacity="0.7"/>
<path d="M394.29,159.58 Q397.76,160.58 401.23,159.38 Q400.19,163.98 397.76,164.18 Q395.34,163.98 394.29,159.58 Z" fill="#eeeaf6" opacity="0.95"/>
<rect x="410.80" y="148.75" width="54.20" height="21.75" fill="#141414"/>
<rect x="410.80" y="167.30" width="54.20" height="3.2" fill="#2a2a2a"/>
<line x1="416.26" y1="166.80" x2="416.54" y2="169.90" stroke="#9a9a9a" stroke-width="0.8" />
<use href="#mz" transform="translate(415.84,150.15) scale(4.713,17.150)" fill="url(#mg)"/>
<use href="#mz" transform="translate(415.84,149.85) scale(5.513,17.950)" fill="#3a2296"/>
<ellipse cx="416.33" cy="156.15" rx="2.36" ry="2.74" fill="#5438c4" opacity="0.7"/>
<path d="M411.83,159.10 Q415.84,160.10 419.85,158.90 Q418.64,163.50 415.84,163.70 Q413.03,163.50 411.83,159.10 Z" fill="#eeeaf6" opacity="0.95"/>
<line x1="427.30" y1="166.68" x2="427.50" y2="169.90" stroke="#9a9a9a" stroke-width="0.8" />
<use href="#mz" transform="translate(426.86,150.03) scale(4.595,17.150)" fill="url(#mg)"/>
<use href="#mz" transform="translate(426.86,149.73) scale(5.395,17.950)" fill="#3a2296"/>
<ellipse cx="426.56" cy="156.03" rx="2.30" ry="2.74" fill="#5438c4" opacity="0.7"/>
<path d="M423.46,158.87 Q426.86,159.87 430.27,158.67 Q429.25,163.27 426.86,163.47 Q424.48,163.27 423.46,158.87 Z" fill="#eeeaf6" opacity="0.95"/>
<line x1="437.46" y1="166.67" x2="437.87" y2="169.90" stroke="#9a9a9a" stroke-width="0.8" />
<use href="#mz" transform="translate(437.76,150.02) scale(4.619,17.150)" fill="url(#mg)"/>
<use href="#mz" transform="translate(437.76,149.72) scale(5.419,17.950)" fill="#3a2296"/>
<ellipse cx="438.12" cy="156.02" rx="2.31" ry="2.74" fill="#5438c4" opacity="0.7"/>
<path d="M433.80,159.11 Q437.76,160.11 441.73,158.91 Q440.54,163.51 437.76,163.71 Q434.99,163.51 433.80,159.11 Z" fill="#eeeaf6" opacity="0.95"/>
<line x1="449.18" y1="166.93" x2="448.45" y2="169.90" stroke="#9a9a9a" stroke-width="0.8" />
<use href="#mz" transform="translate(448.80,150.28) scale(4.553,17.150)" fill="url(#mg)"/>
<use href="#mz" transform="translate(448.80,149.98) scale(5.353,17.950)" fill="#3a2296"/>
<ellipse cx="448.23" cy="156.28" rx="2.28" ry="2.74" fill="#5438c4" opacity="0.7"/>
<path d="M445.22,159.34 Q448.80,160.34 452.38,159.14 Q451.31,163.74 448.80,163.94 Q446.30,163.74 445.22,159.34 Z" fill="#eeeaf6" opacity="0.95"/>
<line x1="459.95" y1="166.86" x2="458.95" y2="169.90" stroke="#9a9a9a" stroke-width="0.8" />
<use href="#mz" transform="translate(459.65,150.21) scale(4.790,17.150)" fill="url(#mg)"/>
<use href="#mz" transform="translate(459.65,149.91) scale(5.590,17.950)" fill="#3a2296"/>
<ellipse cx="459.70" cy="156.21" rx="2.39" ry="2.74" fill="#5438c4" opacity="0.7"/>
<path d="M456.43,159.63 Q459.65,160.63 462.86,159.43 Q461.90,164.03 459.65,164.23 Q457.40,164.03 456.43,159.63 Z" fill="#eeeaf6" opacity="0.95"/>
<text x="284.30" y="189.70" font-size="6.55" text-anchor="end" fill="#262626" font-weight="normal" >D35</text>
<rect x="288.60" y="175.00" width="53.80" height="22.00" fill="#1c1c1c"/>
<rect x="288.60" y="193.80" width="53.80" height="3.2" fill="#2a2a2a"/>
<line x1="293.15" y1="193.53" x2="293.78" y2="196.40" stroke="#9a9a9a" stroke-width="0.8" />
<use href="#mz" transform="translate(293.56,176.63) scale(4.721,17.400)" fill="url(#mg)"/>
<line x1="304.13" y1="193.35" x2="303.94" y2="196.40" stroke="#9a9a9a" stroke-width="0.8" />
<use href="#mz" transform="translate(304.38,176.45) scale(4.724,17.400)" fill="url(#mg)"/>
<line x1="315.66" y1="193.44" x2="315.51" y2="196.40" stroke="#9a9a9a" stroke-width="0.8" />
<use href="#mz" transform="translate(315.77,176.54) scale(4.656,17.400)" fill="url(#mg)"/>
<line x1="326.77" y1="193.25" x2="327.08" y2="196.40" stroke="#9a9a9a" stroke-width="0.8" />
<use href="#mz" transform="translate(326.73,176.35) scale(4.702,17.400)" fill="url(#mg)"/>
<ellipse cx="326.31" cy="189.93" rx="1.33" ry="1.48" fill="#3c2c88" opacity="0.8"/>
<line x1="337.78" y1="193.52" x2="337.55" y2="196.40" stroke="#9a9a9a" stroke-width="0.8" />
<use href="#mz" transform="translate(337.33,176.62) scale(4.750,17.400)" fill="url(#mg)"/>
<rect x="350.80" y="175.00" width="52.40" height="22.00" fill="#141414"/>
<rect x="350.80" y="193.80" width="52.40" height="3.2" fill="#2a2a2a"/>
<line x1="355.99" y1="193.46" x2="355.94" y2="196.40" stroke="#9a9a9a" stroke-width="0.8" />
<use href="#mz" transform="translate(356.06,176.56) scale(4.674,17.400)" fill="url(#mg)"/>
<use href="#mz" transform="translate(356.06,176.26) scale(5.474,18.200)" fill="#3a2296"/>
<ellipse cx="355.64" cy="182.65" rx="2.34" ry="2.78" fill="#5438c4" opacity="0.7"/>
<path d="M351.87,186.09 Q356.06,187.09 360.26,185.89 Q359.00,190.49 356.06,190.69 Q353.13,190.49 351.87,186.09 Z" fill="#eeeaf6" opacity="0.95"/>
<ellipse cx="357.10" cy="183.36" rx="1.33" ry="1.48" fill="#e8e020" opacity="0.85"/>
<ellipse cx="358.70" cy="179.94" rx="1.24" ry="1.03" fill="#30b8e0" opacity="0.85"/>
<ellipse cx="354.13" cy="191.17" rx="1.90" ry="1.73" fill="#30b8e0" opacity="0.85"/>
<line x1="366.21" y1="192.93" x2="366.10" y2="196.40" stroke="#9a9a9a" stroke-width="0.8" />
<use href="#mz" transform="translate(366.60,176.03) scale(4.734,17.400)" fill="url(#mg)"/>
<use href="#mz" transform="translate(366.60,175.73) scale(5.534,18.200)" fill="#3a2296"/>
<ellipse cx="366.26" cy="182.12" rx="2.37" ry="2.78" fill="#5438c4" opacity="0.7"/>
<path d="M362.68,184.85 Q366.60,185.85 370.53,184.65 Q369.35,189.25 366.60,189.45 Q363.86,189.25 362.68,184.85 Z" fill="#eeeaf6" opacity="0.95"/>
<line x1="376.88" y1="193.03" x2="376.57" y2="196.40" stroke="#9a9a9a" stroke-width="0.8" />
<use href="#mz" transform="translate(377.09,176.13) scale(4.528,17.400)" fill="url(#mg)"/>
<use href="#mz" transform="translate(377.09,175.83) scale(5.328,18.200)" fill="#3a2296"/>
<ellipse cx="377.40" cy="182.22" rx="2.26" ry="2.78" fill="#5438c4" opacity="0.7"/>
<path d="M373.53,185.06 Q377.09,186.06 380.66,184.86 Q379.59,189.46 377.09,189.66 Q374.60,189.46 373.53,185.06 Z" fill="#eeeaf6" opacity="0.95"/>
<line x1="388.18" y1="193.08" x2="388.46" y2="196.40" stroke="#9a9a9a" stroke-width="0.8" />
<use href="#mz" transform="translate(387.80,176.18) scale(4.605,17.400)" fill="url(#mg)"/>
<use href="#mz" transform="translate(387.80,175.88) scale(5.405,18.200)" fill="#3a2296"/>
<ellipse cx="387.61" cy="182.27" rx="2.30" ry="2.78" fill="#5438c4" opacity="0.7"/>
<path d="M383.70,185.44 Q387.80,186.44 391.89,185.24 Q390.66,189.84 387.80,190.04 Q384.93,189.84 383.70,185.44 Z" fill="#eeeaf6" opacity="0.95"/>
<line x1="398.39" y1="192.93" x2="398.42" y2="196.40" stroke="#9a9a9a" stroke-width="0.8" />
<use href="#mz" transform="translate(397.94,176.03) scale(4.528,17.400)" fill="url(#mg)"/>
<use href="#mz" transform="translate(397.94,175.73) scale(5.328,18.200)" fill="#3a2296"/>
<ellipse cx="397.80" cy="182.12" rx="2.26" ry="2.78" fill="#5438c4" opacity="0.7"/>
<path d="M394.42,185.26 Q397.94,186.26 401.47,185.06 Q400.41,189.66 397.94,189.86 Q395.47,189.66 394.42,185.26 Z" fill="#eeeaf6" opacity="0.95"/>
<rect x="410.80" y="175.00" width="54.20" height="22.00" fill="#141414"/>
<rect x="410.80" y="193.80" width="54.20" height="3.2" fill="#2a2a2a"/>
<line x1="415.73" y1="193.36" x2="415.21" y2="196.40" stroke="#9a9a9a" stroke-width="0.8" />
<use href="#mz" transform="translate(415.99,176.46) scale(4.797,17.400)" fill="url(#mg)"/>
<use href="#mz" transform="translate(415.99,176.16) scale(5.597,18.200)" fill="#3a2296"/>
<ellipse cx="415.96" cy="182.55" rx="2.40" ry="2.78" fill="#5438c4" opacity="0.7"/>
<path d="M411.92,185.47 Q415.99,186.47 420.07,185.27 Q418.85,189.87 415.99,190.07 Q413.14,189.87 411.92,185.47 Z" fill="#eeeaf6" opacity="0.95"/>
<ellipse cx="415.54" cy="190.49" rx="1.36" ry="1.75" fill="#40b040" opacity="0.85"/>
<ellipse cx="414.61" cy="190.41" rx="1.47" ry="1.60" fill="#f09020" opacity="0.85"/>
<ellipse cx="414.65" cy="186.05" rx="1.07" ry="1.75" fill="#30b8e0" opacity="0.85"/>
<ellipse cx="414.29" cy="191.03" rx="1.06" ry="1.04" fill="#e8e020" opacity="0.85"/>
<line x1="426.81" y1="192.97" x2="426.78" y2="196.40" stroke="#9a9a9a" stroke-width="0.8" />
<use href="#mz" transform="translate(426.83,176.07) scale(4.715,17.400)" fill="url(#mg)"/>
<use href="#mz" transform="translate(426.83,175.77) scale(5.515,18.200)" fill="#3a2296"/>
<ellipse cx="427.38" cy="182.16" rx="2.36" ry="2.78" fill="#5438c4" opacity="0.7"/>
<path d="M422.75,185.38 Q426.83,186.38 430.91,185.18 Q429.68,189.78 426.83,189.98 Q423.98,189.78 422.75,185.38 Z" fill="#eeeaf6" opacity="0.95"/>
<ellipse cx="424.11" cy="181.13" rx="1.11" ry="1.65" fill="#2a60e0" opacity="0.85"/>
<ellipse cx="425.18" cy="185.77" rx="1.48" ry="1.07" fill="#e8e020" opacity="0.85"/>
<ellipse cx="425.79" cy="183.97" rx="1.51" ry="2.00" fill="#30b8e0" opacity="0.85"/>
<line x1="437.72" y1="193.38" x2="437.95" y2="196.40" stroke="#9a9a9a" stroke-width="0.8" />
<use href="#mz" transform="translate(438.12,176.48) scale(4.608,17.400)" fill="url(#mg)"/>
<use href="#mz" transform="translate(438.12,176.18) scale(5.408,18.200)" fill="#3a2296"/>
<ellipse cx="438.07" cy="182.57" rx="2.30" ry="2.78" fill="#5438c4" opacity="0.7"/>
<path d="M434.16,186.32 Q438.12,187.32 442.07,186.12 Q440.88,190.72 438.12,190.92 Q435.35,190.72 434.16,186.32 Z" fill="#eeeaf6" opacity="0.95"/>
<ellipse cx="437.81" cy="190.36" rx="1.68" ry="1.42" fill="#e8e020" opacity="0.85"/>
<ellipse cx="438.47" cy="185.07" rx="0.91" ry="1.99" fill="#30b8e0" opacity="0.85"/>
<ellipse cx="436.49" cy="187.13" rx="1.22" ry="1.31" fill="#f09020" opacity="0.85"/>
<ellipse cx="439.50" cy="191.54" rx="1.73" ry="1.51" fill="#30b8e0" opacity="0.85"/>
<line x1="448.33" y1="193.41" x2="449.21" y2="196.40" stroke="#9a9a9a" stroke-width="0.8" />
<use href="#mz" transform="translate(448.50,176.51) scale(4.560,17.400)" fill="url(#mg)"/>
<use href="#mz" transform="translate(448.50,176.21) scale(5.360,18.200)" fill="#3a2296"/>
<ellipse cx="448.57" cy="182.60" rx="2.28" ry="2.78" fill="#5438c4" opacity="0.7"/>
<path d="M445.15,186.01 Q448.50,187.01 451.84,185.81 Q450.84,190.41 448.50,190.61 Q446.16,190.41 445.15,186.01 Z" fill="#eeeaf6" opacity="0.95"/>
<ellipse cx="446.27" cy="180.96" rx="1.00" ry="1.65" fill="#30b8e0" opacity="0.85"/>
<ellipse cx="446.74" cy="181.64" rx="0.94" ry="1.41" fill="#30b8e0" opacity="0.85"/>
<ellipse cx="446.25" cy="182.08" rx="1.07" ry="1.04" fill="#2a60e0" opacity="0.85"/>
<line x1="460.28" y1="193.48" x2="459.27" y2="196.40" stroke="#9a9a9a" stroke-width="0.8" />
<use href="#mz" transform="translate(459.85,176.58) scale(4.602,17.400)" fill="url(#mg)"/>
<use href="#mz" transform="translate(459.85,176.28) scale(5.402,18.200)" fill="#3a2296"/>
<ellipse cx="459.50" cy="182.67" rx="2.30" ry="2.78" fill="#5438c4" opacity="0.7"/>
<path d="M456.06,185.27 Q459.85,186.27 463.64,185.07 Q462.50,189.67 459.85,189.87 Q457.20,189.67 456.06,185.27 Z" fill="#eeeaf6" opacity="0.95"/>
<ellipse cx="458.92" cy="184.56" rx="0.92" ry="1.34" fill="#30b8e0" opacity="0.85"/>
<ellipse cx="458.84" cy="189.48" rx="1.17" ry="1.98" fill="#f09020" opacity="0.85"/>
<ellipse cx="457.19" cy="183.51" rx="1.28" ry="1.62" fill="#30b8e0" opacity="0.85"/>
<text x="284.30" y="214.40" font-size="6.55" text-anchor="end" fill="#262626" font-weight="normal" >D42</text>
<rect x="288.60" y="200.00" width="53.80" height="22.00" fill="#1c1c1c"/>
<rect x="288.60" y="218.80" width="53.80" height="3.2" fill="#2a2a2a"/>
<line x1="292.45" y1="218.13" x2="292.02" y2="221.40" stroke="#9a9a9a" stroke-width="0.8" />
<use href="#mz" transform="translate(292.66,201.23) scale(4.561,17.400)" fill="url(#mg)"/>
<line x1="301.21" y1="218.28" x2="300.99" y2="221.40" stroke="#9a9a9a" stroke-width="0.8" />
<use href="#mz" transform="translate(301.41,201.38) scale(4.576,17.400)" fill="url(#mg)"/>
<line x1="314.11" y1="218.30" x2="315.11" y2="221.40" stroke="#9a9a9a" stroke-width="0.8" />
<use href="#mz" transform="translate(314.41,201.40) scale(4.654,17.400)" fill="url(#mg)"/>
<line x1="325.97" y1="218.56" x2="325.14" y2="221.40" stroke="#9a9a9a" stroke-width="0.8" />
<use href="#mz" transform="translate(325.90,201.66) scale(4.712,17.400)" fill="url(#mg)"/>
<line x1="336.94" y1="218.00" x2="336.83" y2="221.40" stroke="#9a9a9a" stroke-width="0.8" />
<use href="#mz" transform="translate(336.96,201.10) scale(4.733,17.400)" fill="url(#mg)"/>
<path d="M353.70,208.52 L358.50,213.08 M358.50,208.52 L353.70,213.08" stroke="#b8122e" stroke-width="1.6"/>
<path d="M364.10,208.52 L368.90,213.08 M368.90,208.52 L364.10,213.08" stroke="#b8122e" stroke-width="1.6"/>
<path d="M376.60,208.52 L381.40,213.08 M381.40,208.52 L376.60,213.08" stroke="#b8122e" stroke-width="1.6"/>
<path d="M386.60,208.52 L391.40,213.08 M391.40,208.52 L386.60,213.08" stroke="#b8122e" stroke-width="1.6"/>
<path d="M395.80,208.52 L400.60,213.08 M400.60,208.52 L395.80,213.08" stroke="#b8122e" stroke-width="1.6"/>
<path d="M413.60,208.52 L418.40,213.08 M418.40,208.52 L413.60,213.08" stroke="#b8122e" stroke-width="1.6"/>
<path d="M425.10,208.52 L429.90,213.08 M429.90,208.52 L425.10,213.08" stroke="#b8122e" stroke-width="1.6"/>
<path d="M435.40,208.52 L440.20,213.08 M440.20,208.52 L435.40,213.08" stroke="#b8122e" stroke-width="1.6"/>
<path d="M445.60,208.52 L450.40,213.08 M450.40,208.52 L445.60,213.08" stroke="#b8122e" stroke-width="1.6"/>
<path d="M455.60,208.52 L460.40,213.08 M460.40,208.52 L455.60,213.08" stroke="#b8122e" stroke-width="1.6"/>
<text x="284.30" y="239.10" font-size="6.55" text-anchor="end" fill="#262626" font-weight="normal" >D48</text>
<rect x="288.60" y="224.00" width="53.80" height="23.00" fill="#1c1c1c"/>
<rect x="288.60" y="243.80" width="53.80" height="3.2" fill="#2a2a2a"/>
<line x1="293.58" y1="243.51" x2="294.43" y2="246.40" stroke="#9a9a9a" stroke-width="0.8" />
<use href="#mz" transform="translate(293.81,225.61) scale(4.528,18.400)" fill="url(#mg)"/>
<line x1="304.76" y1="243.07" x2="304.77" y2="246.40" stroke="#9a9a9a" stroke-width="0.8" />
<use href="#mz" transform="translate(304.69,225.17) scale(4.719,18.400)" fill="url(#mg)"/>
<ellipse cx="304.98" cy="235.39" rx="1.53" ry="1.59" fill="#3c2c88" opacity="0.8"/>
<line x1="316.14" y1="242.99" x2="315.48" y2="246.40" stroke="#9a9a9a" stroke-width="0.8" />
<use href="#mz" transform="translate(315.82,225.09) scale(4.680,18.400)" fill="url(#mg)"/>
<ellipse cx="314.60" cy="237.59" rx="1.46" ry="0.95" fill="#3c2c88" opacity="0.8"/>
<ellipse cx="316.04" cy="233.93" rx="0.83" ry="0.94" fill="#3c2c88" opacity="0.8"/>
<line x1="326.55" y1="243.36" x2="327.02" y2="246.40" stroke="#9a9a9a" stroke-width="0.8" />
<use href="#mz" transform="translate(326.75,225.46) scale(4.782,18.400)" fill="url(#mg)"/>
<ellipse cx="327.30" cy="238.45" rx="1.41" ry="0.93" fill="#3c2c88" opacity="0.8"/>
<ellipse cx="326.33" cy="233.98" rx="1.22" ry="0.89" fill="#3c2c88" opacity="0.8"/>
<line x1="336.67" y1="242.99" x2="337.62" y2="246.40" stroke="#9a9a9a" stroke-width="0.8" />
<use href="#mz" transform="translate(336.93,225.09) scale(4.601,18.400)" fill="url(#mg)"/>
<ellipse cx="337.58" cy="233.65" rx="1.34" ry="0.92" fill="#3c2c88" opacity="0.8"/>
<text x="284.30" y="265.30" font-size="6.55" text-anchor="end" fill="#262626" font-weight="normal" >D56</text>
<rect x="288.60" y="252.00" width="53.80" height="22.00" fill="#1c1c1c"/>
<rect x="288.60" y="270.80" width="53.80" height="3.2" fill="#2a2a2a"/>
<line x1="294.35" y1="270.23" x2="294.64" y2="273.40" stroke="#9a9a9a" stroke-width="0.8" />
<use href="#mz" transform="translate(294.44,253.33) scale(4.680,17.400)" fill="url(#mg)"/>
<line x1="304.92" y1="270.43" x2="305.72" y2="273.40" stroke="#9a9a9a" stroke-width="0.8" />
<use href="#mz" transform="translate(304.93,253.53) scale(4.727,17.400)" fill="url(#mg)"/>
<line x1="315.77" y1="270.19" x2="315.94" y2="273.40" stroke="#9a9a9a" stroke-width="0.8" />
<use href="#mz" transform="translate(315.84,253.29) scale(4.757,17.400)" fill="url(#mg)"/>
<line x1="326.60" y1="270.27" x2="327.31" y2="273.40" stroke="#9a9a9a" stroke-width="0.8" />
<use href="#mz" transform="translate(326.67,253.37) scale(4.658,17.400)" fill="url(#mg)"/>
<line x1="337.24" y1="270.41" x2="337.21" y2="273.40" stroke="#9a9a9a" stroke-width="0.8" />
<use href="#mz" transform="translate(336.84,253.51) scale(4.516,17.400)" fill="url(#mg)"/>
<text x="284.30" y="290.80" font-size="6.55" text-anchor="end" fill="#262626" font-weight="normal" >D63</text>
<path d="M289.90,286.62 L294.70,291.18 M294.70,286.62 L289.90,291.18" stroke="#b8122e" stroke-width="1.6"/>
<path d="M300.30,286.62 L305.10,291.18 M305.10,286.62 L300.30,291.18" stroke="#b8122e" stroke-width="1.6"/>
<rect x="310.00" y="277.00" width="34.00" height="23.00" fill="#1a1a1a"/>
<rect x="310.00" y="296.80" width="34.00" height="3.2" fill="#2a2a2a"/>
<line x1="315.86" y1="296.11" x2="315.08" y2="299.40" stroke="#9a9a9a" stroke-width="0.8" />
<use href="#mz" transform="translate(315.76,278.21) scale(4.726,18.400)" fill="url(#mg)"/>
<use href="#mz" transform="translate(315.76,277.91) scale(5.526,19.200)" fill="#3a2296"/>
<ellipse cx="315.31" cy="284.65" rx="2.36" ry="2.94" fill="#5438c4" opacity="0.7"/>
<path d="M312.10,287.94 Q315.76,288.94 319.43,287.74 Q318.33,292.34 315.76,292.54 Q313.20,292.34 312.10,287.94 Z" fill="#eeeaf6" opacity="0.95"/>
<line x1="326.92" y1="296.39" x2="326.48" y2="299.40" stroke="#9a9a9a" stroke-width="0.8" />
<use href="#mz" transform="translate(326.90,278.49) scale(4.516,18.400)" fill="url(#mg)"/>
<use href="#mz" transform="translate(326.90,278.19) scale(5.316,19.200)" fill="#3a2296"/>
<ellipse cx="326.66" cy="284.93" rx="2.26" ry="2.94" fill="#5438c4" opacity="0.7"/>
<path d="M323.70,288.14 Q326.90,289.14 330.10,287.94 Q329.14,292.54 326.90,292.74 Q324.66,292.54 323.70,288.14 Z" fill="#eeeaf6" opacity="0.95"/>
<line x1="338.07" y1="296.58" x2="338.49" y2="299.40" stroke="#9a9a9a" stroke-width="0.8" />
<use href="#mz" transform="translate(337.90,278.68) scale(4.773,18.400)" fill="url(#mg)"/>
<ellipse cx="338.21" cy="288.16" rx="1.32" ry="1.14" fill="#3c2c88" opacity="0.8"/>
<ellipse cx="336.10" cy="287.48" rx="1.22" ry="0.90" fill="#3c2c88" opacity="0.8"/>
<rect x="490.60" y="46.80" width="5.00" height="77.20" fill="url(#cb)"/>
<line x1="495.60" y1="46.80" x2="498.40" y2="46.80" stroke="#1a1a1a" stroke-width="0.9" />
<line x1="495.60" y1="50.02" x2="497.60" y2="50.02" stroke="#1a1a1a" stroke-width="0.9" />
<line x1="495.60" y1="53.23" x2="497.60" y2="53.23" stroke="#1a1a1a" stroke-width="0.9" />
<line x1="495.60" y1="56.45" x2="497.60" y2="56.45" stroke="#1a1a1a" stroke-width="0.9" />
<line x1="495.60" y1="59.67" x2="497.60" y2="59.67" stroke="#1a1a1a" stroke-width="0.9" />
<line x1="495.60" y1="62.88" x2="498.40" y2="62.88" stroke="#1a1a1a" stroke-width="0.9" />
<line x1="495.60" y1="66.10" x2="497.60" y2="66.10" stroke="#1a1a1a" stroke-width="0.9" />
<line x1="495.60" y1="69.32" x2="497.60" y2="69.32" stroke="#1a1a1a" stroke-width="0.9" />
<line x1="495.60" y1="72.53" x2="497.60" y2="72.53" stroke="#1a1a1a" stroke-width="0.9" />
<line x1="495.60" y1="75.75" x2="497.60" y2="75.75" stroke="#1a1a1a" stroke-width="0.9" />
<line x1="495.60" y1="78.97" x2="498.40" y2="78.97" stroke="#1a1a1a" stroke-width="0.9" />
<line x1="495.60" y1="82.18" x2="497.60" y2="82.18" stroke="#1a1a1a" stroke-width="0.9" />
<line x1="495.60" y1="85.40" x2="497.60" y2="85.40" stroke="#1a1a1a" stroke-width="0.9" />
<line x1="495.60" y1="88.62" x2="497.60" y2="88.62" stroke="#1a1a1a" stroke-width="0.9" />
<line x1="495.60" y1="91.83" x2="497.60" y2="91.83" stroke="#1a1a1a" stroke-width="0.9" />
<line x1="495.60" y1="95.05" x2="498.40" y2="95.05" stroke="#1a1a1a" stroke-width="0.9" />
<line x1="495.60" y1="98.27" x2="497.60" y2="98.27" stroke="#1a1a1a" stroke-width="0.9" />
<line x1="495.60" y1="101.48" x2="497.60" y2="101.48" stroke="#1a1a1a" stroke-width="0.9" />
<line x1="495.60" y1="104.70" x2="497.60" y2="104.70" stroke="#1a1a1a" stroke-width="0.9" />
<line x1="495.60" y1="107.92" x2="497.60" y2="107.92" stroke="#1a1a1a" stroke-width="0.9" />
<line x1="495.60" y1="111.13" x2="498.40" y2="111.13" stroke="#1a1a1a" stroke-width="0.9" />
<line x1="495.60" y1="114.35" x2="497.60" y2="114.35" stroke="#1a1a1a" stroke-width="0.9" />
<line x1="495.60" y1="117.57" x2="497.60" y2="117.57" stroke="#1a1a1a" stroke-width="0.9" />
<line x1="495.60" y1="120.78" x2="497.60" y2="120.78" stroke="#1a1a1a" stroke-width="0.9" />
<line x1="495.60" y1="124.00" x2="497.60" y2="124.00" stroke="#1a1a1a" stroke-width="0.9" />
<rect x="490.60" y="46.80" width="5.00" height="77.20" fill="none" stroke="#222" stroke-width="0.5"/>
<text x="503.60" y="49.20" font-size="6.3" text-anchor="start" fill="#2a2a2a" font-weight="normal" >5.0</text>
<text x="503.60" y="65.00" font-size="6.3" text-anchor="start" fill="#2a2a2a" font-weight="normal" >4.0</text>
<text x="503.60" y="80.20" font-size="6.3" text-anchor="start" fill="#2a2a2a" font-weight="normal" >3.0</text>
<text x="503.60" y="95.70" font-size="6.3" text-anchor="start" fill="#2a2a2a" font-weight="normal" >2.0</text>
<text x="503.60" y="111.20" font-size="6.3" text-anchor="start" fill="#2a2a2a" font-weight="normal" >1.0</text>
<rect x="490.60" y="149.60" width="5.00" height="43.90" fill="url(#cb)"/>
<line x1="495.60" y1="149.60" x2="498.40" y2="149.60" stroke="#1a1a1a" stroke-width="0.9" />
<line x1="495.60" y1="152.74" x2="497.60" y2="152.74" stroke="#1a1a1a" stroke-width="0.9" />
<line x1="495.60" y1="155.87" x2="497.60" y2="155.87" stroke="#1a1a1a" stroke-width="0.9" />
<line x1="495.60" y1="159.01" x2="497.60" y2="159.01" stroke="#1a1a1a" stroke-width="0.9" />
<line x1="495.60" y1="162.14" x2="497.60" y2="162.14" stroke="#1a1a1a" stroke-width="0.9" />
<line x1="495.60" y1="165.28" x2="498.40" y2="165.28" stroke="#1a1a1a" stroke-width="0.9" />
<line x1="495.60" y1="168.41" x2="497.60" y2="168.41" stroke="#1a1a1a" stroke-width="0.9" />
<line x1="495.60" y1="171.55" x2="497.60" y2="171.55" stroke="#1a1a1a" stroke-width="0.9" />
<line x1="495.60" y1="174.69" x2="497.60" y2="174.69" stroke="#1a1a1a" stroke-width="0.9" />
<line x1="495.60" y1="177.82" x2="497.60" y2="177.82" stroke="#1a1a1a" stroke-width="0.9" />
<line x1="495.60" y1="180.96" x2="498.40" y2="180.96" stroke="#1a1a1a" stroke-width="0.9" />
<line x1="495.60" y1="184.09" x2="497.60" y2="184.09" stroke="#1a1a1a" stroke-width="0.9" />
<line x1="495.60" y1="187.23" x2="497.60" y2="187.23" stroke="#1a1a1a" stroke-width="0.9" />
<line x1="495.60" y1="190.36" x2="497.60" y2="190.36" stroke="#1a1a1a" stroke-width="0.9" />
<line x1="495.60" y1="193.50" x2="497.60" y2="193.50" stroke="#1a1a1a" stroke-width="0.9" />
<rect x="490.60" y="149.60" width="5.00" height="43.90" fill="none" stroke="#222" stroke-width="0.5"/>
<text x="503.60" y="151.80" font-size="6.3" text-anchor="start" fill="#2a2a2a" font-weight="normal" >1.0</text>
<text x="503.60" y="160.20" font-size="6.3" text-anchor="start" fill="#2a2a2a" font-weight="normal" >0.8</text>
<text x="503.60" y="169.20" font-size="6.3" text-anchor="start" fill="#2a2a2a" font-weight="normal" >0.6</text>
<text x="503.60" y="177.90" font-size="6.3" text-anchor="start" fill="#2a2a2a" font-weight="normal" >0.4</text>
<text x="503.60" y="187.20" font-size="6.3" text-anchor="start" fill="#2a2a2a" font-weight="normal" >0.2</text>
<rect x="490.60" y="197.60" width="5.00" height="78.40" fill="url(#cb)"/>
<line x1="495.60" y1="197.60" x2="498.40" y2="197.60" stroke="#1a1a1a" stroke-width="0.9" />
<line x1="495.60" y1="200.74" x2="497.60" y2="200.74" stroke="#1a1a1a" stroke-width="0.9" />
<line x1="495.60" y1="203.87" x2="497.60" y2="203.87" stroke="#1a1a1a" stroke-width="0.9" />
<line x1="495.60" y1="207.01" x2="497.60" y2="207.01" stroke="#1a1a1a" stroke-width="0.9" />
<line x1="495.60" y1="210.14" x2="497.60" y2="210.14" stroke="#1a1a1a" stroke-width="0.9" />
<line x1="495.60" y1="213.28" x2="498.40" y2="213.28" stroke="#1a1a1a" stroke-width="0.9" />
<line x1="495.60" y1="216.42" x2="497.60" y2="216.42" stroke="#1a1a1a" stroke-width="0.9" />
<line x1="495.60" y1="219.55" x2="497.60" y2="219.55" stroke="#1a1a1a" stroke-width="0.9" />
<line x1="495.60" y1="222.69" x2="497.60" y2="222.69" stroke="#1a1a1a" stroke-width="0.9" />
<line x1="495.60" y1="225.82" x2="497.60" y2="225.82" stroke="#1a1a1a" stroke-width="0.9" />
<line x1="495.60" y1="228.96" x2="498.40" y2="228.96" stroke="#1a1a1a" stroke-width="0.9" />
<line x1="495.60" y1="232.10" x2="497.60" y2="232.10" stroke="#1a1a1a" stroke-width="0.9" />
<line x1="495.60" y1="235.23" x2="497.60" y2="235.23" stroke="#1a1a1a" stroke-width="0.9" />
<line x1="495.60" y1="238.37" x2="497.60" y2="238.37" stroke="#1a1a1a" stroke-width="0.9" />
<line x1="495.60" y1="241.50" x2="497.60" y2="241.50" stroke="#1a1a1a" stroke-width="0.9" />
<line x1="495.60" y1="244.64" x2="498.40" y2="244.64" stroke="#1a1a1a" stroke-width="0.9" />
<line x1="495.60" y1="247.78" x2="497.60" y2="247.78" stroke="#1a1a1a" stroke-width="0.9" />
<line x1="495.60" y1="250.91" x2="497.60" y2="250.91" stroke="#1a1a1a" stroke-width="0.9" />
<line x1="495.60" y1="254.05" x2="497.60" y2="254.05" stroke="#1a1a1a" stroke-width="0.9" />
<line x1="495.60" y1="257.18" x2="497.60" y2="257.18" stroke="#1a1a1a" stroke-width="0.9" />
<line x1="495.60" y1="260.32" x2="498.40" y2="260.32" stroke="#1a1a1a" stroke-width="0.9" />
<line x1="495.60" y1="263.46" x2="497.60" y2="263.46" stroke="#1a1a1a" stroke-width="0.9" />
<line x1="495.60" y1="266.59" x2="497.60" y2="266.59" stroke="#1a1a1a" stroke-width="0.9" />
<line x1="495.60" y1="269.73" x2="497.60" y2="269.73" stroke="#1a1a1a" stroke-width="0.9" />
<line x1="495.60" y1="272.86" x2="497.60" y2="272.86" stroke="#1a1a1a" stroke-width="0.9" />
<line x1="495.60" y1="276.00" x2="498.40" y2="276.00" stroke="#1a1a1a" stroke-width="0.9" />
<rect x="490.60" y="197.60" width="5.00" height="78.40" fill="none" stroke="#222" stroke-width="0.5"/>
<text x="503.60" y="199.90" font-size="6.3" text-anchor="start" fill="#2a2a2a" font-weight="normal" >5.0</text>
<text x="503.60" y="215.20" font-size="6.3" text-anchor="start" fill="#2a2a2a" font-weight="normal" >4.0</text>
<text x="503.60" y="231.00" font-size="6.3" text-anchor="start" fill="#2a2a2a" font-weight="normal" >3.0</text>
<text x="503.60" y="246.50" font-size="6.3" text-anchor="start" fill="#2a2a2a" font-weight="normal" >2.0</text>
<text x="503.60" y="262.70" font-size="6.3" text-anchor="start" fill="#2a2a2a" font-weight="normal" >1.0</text>
<text x="469.00" y="44.00" font-size="6.4" fill="#2a2a2a">×10<tspan font-size="4" dx="0.5" dy="-2.8">4</tspan></text>
<text x="469.00" y="75.50" font-size="6.4" fill="#2a2a2a">×10<tspan font-size="4" dx="0.5" dy="-2.8">6</tspan></text>
<text x="469.00" y="102.00" font-size="6.4" fill="#2a2a2a">×10<tspan font-size="4" dx="0.5" dy="-2.8">7</tspan></text>
<text x="469.00" y="132.00" font-size="6.4" fill="#2a2a2a">×10<tspan font-size="4" dx="0.5" dy="-2.8">8</tspan></text>
<text x="469.00" y="162.00" font-size="6.4" fill="#2a2a2a">×10<tspan font-size="4" dx="0.5" dy="-2.8">8</tspan></text>
<text x="469.00" y="188.00" font-size="6.4" fill="#2a2a2a">×10<tspan font-size="4" dx="0.5" dy="-2.8">9</tspan></text>
<text x="469.00" y="213.00" font-size="6.4" fill="#2a2a2a">×10<tspan font-size="4" dx="0.5" dy="-2.8">9</tspan></text>
<text x="469.00" y="237.00" font-size="6.4" fill="#2a2a2a">×10<tspan font-size="4" dx="0.5" dy="-2.8">9</tspan></text>
<text x="469.00" y="262.00" font-size="6.4" fill="#2a2a2a">×10<tspan font-size="4" dx="0.5" dy="-2.8">9</tspan></text>
<text x="469.00" y="286.50" font-size="6.4" fill="#2a2a2a">×10<tspan font-size="4" dx="0.5" dy="-2.8">9</tspan></text>
<text x="315.00" y="337.80" font-size="6.35" text-anchor="middle" fill="#333" font-weight="normal" >70-IL15</text>
<text x="372.50" y="337.80" font-size="6.35" text-anchor="middle" fill="#333" font-weight="normal" >19-IL15</text>
<text x="432.50" y="337.80" font-size="6.35" text-anchor="middle" fill="#333" font-weight="normal" >NT-NK</text>
<text x="283.90" y="357.30" font-size="6.5" text-anchor="end" fill="#262626" font-weight="normal" >D3</text>
<rect x="286.80" y="341.50" width="52.20" height="24.00" fill="#141414"/>
<rect x="286.80" y="362.30" width="52.20" height="3.2" fill="#2a2a2a"/>
<line x1="292.20" y1="360.92" x2="292.77" y2="364.90" stroke="#9a9a9a" stroke-width="0.8" />
<use href="#mz" transform="translate(292.40,342.82) scale(4.616,18.600)" fill="url(#mg)"/>
<line x1="301.93" y1="360.91" x2="302.03" y2="364.90" stroke="#9a9a9a" stroke-width="0.8" />
<use href="#mz" transform="translate(301.98,342.81) scale(4.495,18.600)" fill="url(#mg)"/>
<line x1="312.35" y1="360.76" x2="312.47" y2="364.90" stroke="#9a9a9a" stroke-width="0.8" />
<use href="#mz" transform="translate(312.54,342.66) scale(4.651,18.600)" fill="url(#mg)"/>
<line x1="323.43" y1="360.70" x2="323.60" y2="364.90" stroke="#9a9a9a" stroke-width="0.8" />
<use href="#mz" transform="translate(323.15,342.60) scale(4.541,18.600)" fill="url(#mg)"/>
<line x1="334.35" y1="361.20" x2="333.45" y2="364.90" stroke="#9a9a9a" stroke-width="0.8" />
<use href="#mz" transform="translate(334.16,343.10) scale(4.504,18.600)" fill="url(#mg)"/>
<rect x="346.30" y="341.50" width="52.50" height="24.00" fill="#141414"/>
<rect x="346.30" y="362.30" width="52.50" height="3.2" fill="#2a2a2a"/>
<line x1="350.88" y1="361.23" x2="351.58" y2="364.90" stroke="#9a9a9a" stroke-width="0.8" />
<use href="#mz" transform="translate(351.37,343.13) scale(4.728,18.600)" fill="url(#mg)"/>
<line x1="361.98" y1="360.97" x2="362.97" y2="364.90" stroke="#9a9a9a" stroke-width="0.8" />
<use href="#mz" transform="translate(362.25,342.87) scale(4.638,18.600)" fill="url(#mg)"/>
<line x1="373.34" y1="360.81" x2="373.76" y2="364.90" stroke="#9a9a9a" stroke-width="0.8" />
<use href="#mz" transform="translate(373.03,342.71) scale(4.665,18.600)" fill="url(#mg)"/>
<line x1="382.66" y1="361.22" x2="383.56" y2="364.90" stroke="#9a9a9a" stroke-width="0.8" />
<use href="#mz" transform="translate(382.82,343.12) scale(4.596,18.600)" fill="url(#mg)"/>
<line x1="394.19" y1="360.72" x2="393.22" y2="364.90" stroke="#9a9a9a" stroke-width="0.8" />
<use href="#mz" transform="translate(393.83,342.62) scale(4.595,18.600)" fill="url(#mg)"/>
<rect x="406.30" y="341.50" width="53.20" height="24.00" fill="#141414"/>
<rect x="406.30" y="362.30" width="53.20" height="3.2" fill="#2a2a2a"/>
<line x1="411.81" y1="361.10" x2="411.48" y2="364.90" stroke="#9a9a9a" stroke-width="0.8" />
<use href="#mz" transform="translate(411.81,343.00) scale(4.581,18.600)" fill="url(#mg)"/>
<line x1="421.65" y1="360.97" x2="422.06" y2="364.90" stroke="#9a9a9a" stroke-width="0.8" />
<use href="#mz" transform="translate(422.03,342.87) scale(4.741,18.600)" fill="url(#mg)"/>
<line x1="433.10" y1="360.73" x2="432.79" y2="364.90" stroke="#9a9a9a" stroke-width="0.8" />
<use href="#mz" transform="translate(433.38,342.63) scale(4.769,18.600)" fill="url(#mg)"/>
<line x1="444.12" y1="360.65" x2="443.03" y2="364.90" stroke="#9a9a9a" stroke-width="0.8" />
<use href="#mz" transform="translate(443.71,342.55) scale(4.639,18.600)" fill="url(#mg)"/>
<line x1="454.62" y1="361.01" x2="454.46" y2="364.90" stroke="#9a9a9a" stroke-width="0.8" />
<use href="#mz" transform="translate(454.59,342.91) scale(4.502,18.600)" fill="url(#mg)"/>
<text x="283.90" y="386.90" font-size="6.5" text-anchor="end" fill="#262626" font-weight="normal" >D7</text>
<rect x="286.80" y="370.00" width="52.20" height="25.00" fill="#141414"/>
<rect x="286.80" y="391.80" width="52.20" height="3.2" fill="#2a2a2a"/>
<line x1="291.78" y1="389.79" x2="291.58" y2="394.40" stroke="#9a9a9a" stroke-width="0.8" />
<use href="#mz" transform="translate(292.09,371.69) scale(4.493,18.600)" fill="url(#mg)"/>
<line x1="302.34" y1="389.65" x2="303.33" y2="394.40" stroke="#9a9a9a" stroke-width="0.8" />
<use href="#mz" transform="translate(302.69,371.55) scale(4.452,18.600)" fill="url(#mg)"/>
<line x1="312.52" y1="389.51" x2="313.65" y2="394.40" stroke="#9a9a9a" stroke-width="0.8" />
<use href="#mz" transform="translate(313.02,371.41) scale(4.719,18.600)" fill="url(#mg)"/>
<line x1="323.31" y1="389.64" x2="322.61" y2="394.40" stroke="#9a9a9a" stroke-width="0.8" />
<use href="#mz" transform="translate(322.90,371.54) scale(4.463,18.600)" fill="url(#mg)"/>
<line x1="334.09" y1="389.30" x2="333.98" y2="394.40" stroke="#9a9a9a" stroke-width="0.8" />
<use href="#mz" transform="translate(333.76,371.20) scale(4.453,18.600)" fill="url(#mg)"/>
<ellipse cx="334.18" cy="385.31" rx="0.89" ry="1.15" fill="#3c2c88" opacity="0.8"/>
<rect x="346.30" y="370.00" width="52.50" height="25.00" fill="#141414"/>
<rect x="346.30" y="391.80" width="52.50" height="3.2" fill="#2a2a2a"/>
<line x1="351.93" y1="389.28" x2="352.07" y2="394.40" stroke="#9a9a9a" stroke-width="0.8" />
<use href="#mz" transform="translate(351.72,371.18) scale(4.634,18.600)" fill="url(#mg)"/>
<ellipse cx="351.67" cy="379.95" rx="2.21" ry="1.85" fill="#3a2296" opacity="0.85"/>
<ellipse cx="349.57" cy="383.79" rx="2.40" ry="1.93" fill="#3a2296" opacity="0.85"/>
<ellipse cx="353.45" cy="379.53" rx="1.61" ry="1.32" fill="#3a2296" opacity="0.85"/>
<line x1="361.81" y1="389.41" x2="362.52" y2="394.40" stroke="#9a9a9a" stroke-width="0.8" />
<use href="#mz" transform="translate(362.05,371.31) scale(4.600,18.600)" fill="url(#mg)"/>
<line x1="372.17" y1="389.50" x2="372.59" y2="394.40" stroke="#9a9a9a" stroke-width="0.8" />
<use href="#mz" transform="translate(372.12,371.40) scale(4.742,18.600)" fill="url(#mg)"/>
<ellipse cx="372.77" cy="377.58" rx="1.57" ry="1.73" fill="#5a3cb0" opacity="0.75"/>
<ellipse cx="373.37" cy="385.69" rx="1.94" ry="1.55" fill="#4a34a8" opacity="0.75"/>
<line x1="383.03" y1="389.28" x2="383.68" y2="394.40" stroke="#9a9a9a" stroke-width="0.8" />
<use href="#mz" transform="translate(383.37,371.18) scale(4.521,18.600)" fill="url(#mg)"/>
<ellipse cx="381.39" cy="381.89" rx="1.91" ry="1.54" fill="#3a2296" opacity="0.85"/>
<ellipse cx="385.50" cy="378.12" rx="2.09" ry="2.14" fill="#3a2296" opacity="0.85"/>
<ellipse cx="385.57" cy="379.17" rx="2.04" ry="2.12" fill="#3a2296" opacity="0.85"/>
<line x1="392.73" y1="389.72" x2="392.92" y2="394.40" stroke="#9a9a9a" stroke-width="0.8" />
<use href="#mz" transform="translate(393.09,371.62) scale(4.542,18.600)" fill="url(#mg)"/>
<rect x="406.30" y="370.00" width="53.20" height="25.00" fill="#141414"/>
<rect x="406.30" y="391.80" width="53.20" height="3.2" fill="#2a2a2a"/>
<line x1="410.95" y1="389.15" x2="412.21" y2="394.40" stroke="#9a9a9a" stroke-width="0.8" />
<use href="#mz" transform="translate(411.42,371.05) scale(4.627,18.600)" fill="url(#mg)"/>
<ellipse cx="410.47" cy="380.31" rx="1.48" ry="1.13" fill="#3c2c88" opacity="0.8"/>
<line x1="422.29" y1="389.32" x2="422.52" y2="394.40" stroke="#9a9a9a" stroke-width="0.8" />
<use href="#mz" transform="translate(421.85,371.22) scale(4.568,18.600)" fill="url(#mg)"/>
<ellipse cx="419.74" cy="381.85" rx="2.31" ry="1.36" fill="#3a2296" opacity="0.85"/>
<ellipse cx="421.13" cy="384.83" rx="2.61" ry="1.95" fill="#3a2296" opacity="0.85"/>
<line x1="433.63" y1="389.38" x2="433.10" y2="394.40" stroke="#9a9a9a" stroke-width="0.8" />
<use href="#mz" transform="translate(433.29,371.28) scale(4.639,18.600)" fill="url(#mg)"/>
<line x1="443.50" y1="389.34" x2="443.90" y2="394.40" stroke="#9a9a9a" stroke-width="0.8" />
<use href="#mz" transform="translate(443.82,371.24) scale(4.565,18.600)" fill="url(#mg)"/>
<ellipse cx="443.72" cy="381.29" rx="1.75" ry="1.78" fill="#903858" opacity="0.75"/>
<ellipse cx="443.56" cy="387.91" rx="1.85" ry="1.88" fill="#b05a38" opacity="0.75"/>
<line x1="454.00" y1="389.13" x2="454.94" y2="394.40" stroke="#9a9a9a" stroke-width="0.8" />
<use href="#mz" transform="translate(454.22,371.03) scale(4.626,18.600)" fill="url(#mg)"/>
<ellipse cx="454.31" cy="384.92" rx="1.21" ry="1.25" fill="#3c2c88" opacity="0.8"/>
<text x="283.90" y="413.55" font-size="6.5" text-anchor="end" fill="#262626" font-weight="normal" >D14</text>
<rect x="286.80" y="399.00" width="52.20" height="24.50" fill="#141414"/>
<rect x="286.80" y="420.30" width="52.20" height="3.2" fill="#2a2a2a"/>
<line x1="291.73" y1="418.17" x2="292.53" y2="422.90" stroke="#9a9a9a" stroke-width="0.8" />
<use href="#mz" transform="translate(292.17,400.07) scale(4.509,18.600)" fill="url(#mg)"/>
<line x1="303.08" y1="418.27" x2="302.13" y2="422.90" stroke="#9a9a9a" stroke-width="0.8" />
<use href="#mz" transform="translate(302.74,400.17) scale(4.485,18.600)" fill="url(#mg)"/>
<line x1="313.75" y1="418.41" x2="313.21" y2="422.90" stroke="#9a9a9a" stroke-width="0.8" />
<use href="#mz" transform="translate(313.40,400.31) scale(4.695,18.600)" fill="url(#mg)"/>
<line x1="322.90" y1="418.57" x2="323.27" y2="422.90" stroke="#9a9a9a" stroke-width="0.8" />
<use href="#mz" transform="translate(323.10,400.47) scale(4.707,18.600)" fill="url(#mg)"/>
<line x1="333.40" y1="418.46" x2="333.30" y2="422.90" stroke="#9a9a9a" stroke-width="0.8" />
<use href="#mz" transform="translate(333.77,400.36) scale(4.500,18.600)" fill="url(#mg)"/>
<ellipse cx="333.43" cy="412.78" rx="0.91" ry="1.37" fill="#3c2c88" opacity="0.8"/>
<ellipse cx="332.69" cy="414.13" rx="1.33" ry="0.92" fill="#3c2c88" opacity="0.8"/>
<rect x="346.30" y="399.00" width="52.50" height="24.50" fill="#141414"/>
<rect x="346.30" y="420.30" width="52.50" height="3.2" fill="#2a2a2a"/>
<line x1="351.16" y1="418.60" x2="351.07" y2="422.90" stroke="#9a9a9a" stroke-width="0.8" />
<use href="#mz" transform="translate(351.25,400.50) scale(4.554,18.600)" fill="url(#mg)"/>
<ellipse cx="349.88" cy="409.34" rx="1.48" ry="1.29" fill="#a83040" opacity="0.75"/>
<ellipse cx="353.00" cy="414.42" rx="1.63" ry="1.11" fill="#4a34a8" opacity="0.75"/>
<ellipse cx="350.24" cy="413.56" rx="2.11" ry="1.29" fill="#4a34a8" opacity="0.75"/>
<line x1="361.78" y1="418.64" x2="362.36" y2="422.90" stroke="#9a9a9a" stroke-width="0.8" />
<use href="#mz" transform="translate(361.90,400.54) scale(4.507,18.600)" fill="url(#mg)"/>
<ellipse cx="359.87" cy="410.90" rx="1.53" ry="1.15" fill="#903858" opacity="0.75"/>
<ellipse cx="364.04" cy="409.30" rx="1.87" ry="1.30" fill="#903858" opacity="0.75"/>
<ellipse cx="360.43" cy="414.70" rx="1.49" ry="1.74" fill="#5a3cb0" opacity="0.75"/>
<line x1="371.79" y1="418.40" x2="372.28" y2="422.90" stroke="#9a9a9a" stroke-width="0.8" />
<use href="#mz" transform="translate(372.14,400.30) scale(4.573,18.600)" fill="url(#mg)"/>
<ellipse cx="373.92" cy="409.32" rx="2.11" ry="1.91" fill="#a83040" opacity="0.75"/>
<ellipse cx="371.46" cy="406.58" rx="1.54" ry="1.15" fill="#903858" opacity="0.75"/>
<ellipse cx="373.89" cy="409.22" rx="1.89" ry="1.90" fill="#a83040" opacity="0.75"/>
<ellipse cx="369.75" cy="409.75" rx="2.08" ry="1.61" fill="#4a34a8" opacity="0.75"/>
<line x1="383.25" y1="418.55" x2="383.11" y2="422.90" stroke="#9a9a9a" stroke-width="0.8" />
<use href="#mz" transform="translate(383.37,400.45) scale(4.736,18.600)" fill="url(#mg)"/>
<ellipse cx="380.92" cy="413.92" rx="1.34" ry="1.17" fill="#a83040" opacity="0.75"/>
<ellipse cx="383.99" cy="410.62" rx="1.56" ry="1.35" fill="#903858" opacity="0.75"/>
<ellipse cx="385.34" cy="410.29" rx="2.10" ry="1.13" fill="#b05a38" opacity="0.75"/>
<line x1="393.71" y1="418.45" x2="392.97" y2="422.90" stroke="#9a9a9a" stroke-width="0.8" />
<use href="#mz" transform="translate(393.73,400.35) scale(4.552,18.600)" fill="url(#mg)"/>
<ellipse cx="392.69" cy="409.50" rx="1.71" ry="1.87" fill="#3a2296" opacity="0.85"/>
<ellipse cx="395.67" cy="416.88" rx="1.40" ry="1.90" fill="#3a2296" opacity="0.85"/>
<rect x="406.30" y="399.00" width="53.20" height="24.50" fill="#141414"/>
<rect x="406.30" y="420.30" width="53.20" height="3.2" fill="#2a2a2a"/>
<line x1="412.29" y1="418.16" x2="412.58" y2="422.90" stroke="#9a9a9a" stroke-width="0.8" />
<use href="#mz" transform="translate(411.97,400.06) scale(4.730,18.600)" fill="url(#mg)"/>
<ellipse cx="410.85" cy="407.63" rx="1.43" ry="2.19" fill="#3a2296" opacity="0.85"/>
<ellipse cx="410.59" cy="410.62" rx="1.62" ry="1.51" fill="#3a2296" opacity="0.85"/>
<ellipse cx="410.37" cy="409.97" rx="2.36" ry="2.19" fill="#3a2296" opacity="0.85"/>
<line x1="422.22" y1="418.36" x2="422.05" y2="422.90" stroke="#9a9a9a" stroke-width="0.8" />
<use href="#mz" transform="translate(422.05,400.26) scale(4.624,18.600)" fill="url(#mg)"/>
<line x1="433.46" y1="418.59" x2="433.43" y2="422.90" stroke="#9a9a9a" stroke-width="0.8" />
<use href="#mz" transform="translate(433.05,400.49) scale(4.609,18.600)" fill="url(#mg)"/>
<ellipse cx="435.30" cy="414.95" rx="1.51" ry="1.05" fill="#3c2c88" opacity="0.8"/>
<line x1="443.43" y1="418.58" x2="444.08" y2="422.90" stroke="#9a9a9a" stroke-width="0.8" />
<use href="#mz" transform="translate(443.89,400.48) scale(4.654,18.600)" fill="url(#mg)"/>
<ellipse cx="445.78" cy="406.65" rx="1.38" ry="1.56" fill="#4a34a8" opacity="0.75"/>
<ellipse cx="443.34" cy="414.05" rx="1.38" ry="1.74" fill="#4a34a8" opacity="0.75"/>
<ellipse cx="442.27" cy="415.61" rx="1.33" ry="1.61" fill="#b05a38" opacity="0.75"/>
<line x1="454.37" y1="418.59" x2="454.78" y2="422.90" stroke="#9a9a9a" stroke-width="0.8" />
<use href="#mz" transform="translate(454.25,400.49) scale(4.626,18.600)" fill="url(#mg)"/>
<ellipse cx="452.51" cy="410.86" rx="2.34" ry="1.55" fill="#3a2296" opacity="0.85"/>
<ellipse cx="452.79" cy="407.15" rx="2.22" ry="2.34" fill="#3a2296" opacity="0.85"/>
<text x="283.90" y="443.78" font-size="6.5" text-anchor="end" fill="#262626" font-weight="normal" >D21</text>
<rect x="286.80" y="428.25" width="52.20" height="23.25" fill="#141414"/>
<rect x="286.80" y="448.30" width="52.20" height="3.2" fill="#2a2a2a"/>
<line x1="292.41" y1="447.83" x2="292.70" y2="450.90" stroke="#9a9a9a" stroke-width="0.8" />
<use href="#mz" transform="translate(292.49,429.73) scale(4.484,18.600)" fill="url(#mg)"/>
<ellipse cx="291.98" cy="443.16" rx="0.91" ry="0.93" fill="#3c2c88" opacity="0.8"/>
<ellipse cx="294.72" cy="444.58" rx="0.96" ry="1.09" fill="#3c2c88" opacity="0.8"/>
<line x1="302.90" y1="447.63" x2="303.03" y2="450.90" stroke="#9a9a9a" stroke-width="0.8" />
<use href="#mz" transform="translate(302.50,429.53) scale(4.684,18.600)" fill="url(#mg)"/>
<line x1="313.19" y1="447.40" x2="313.85" y2="450.90" stroke="#9a9a9a" stroke-width="0.8" />
<use href="#mz" transform="translate(313.26,429.30) scale(4.495,18.600)" fill="url(#mg)"/>
<line x1="323.40" y1="447.86" x2="322.92" y2="450.90" stroke="#9a9a9a" stroke-width="0.8" />
<use href="#mz" transform="translate(323.49,429.76) scale(4.511,18.600)" fill="url(#mg)"/>
<ellipse cx="324.28" cy="439.74" rx="1.03" ry="1.49" fill="#3c2c88" opacity="0.8"/>
<ellipse cx="323.23" cy="444.33" rx="1.24" ry="1.52" fill="#3c2c88" opacity="0.8"/>
<line x1="334.54" y1="447.46" x2="333.79" y2="450.90" stroke="#9a9a9a" stroke-width="0.8" />
<use href="#mz" transform="translate(334.16,429.36) scale(4.573,18.600)" fill="url(#mg)"/>
<ellipse cx="333.13" cy="439.96" rx="1.85" ry="1.39" fill="#3a2296" opacity="0.85"/>
<ellipse cx="332.79" cy="441.51" rx="2.18" ry="1.47" fill="#3a2296" opacity="0.85"/>
<rect x="346.30" y="428.25" width="52.50" height="23.25" fill="#141414"/>
<rect x="346.30" y="448.30" width="52.50" height="3.2" fill="#2a2a2a"/>
<line x1="350.56" y1="447.82" x2="350.80" y2="450.90" stroke="#9a9a9a" stroke-width="0.8" />
<use href="#mz" transform="translate(351.06,429.72) scale(4.698,18.600)" fill="url(#mg)"/>
<ellipse cx="350.38" cy="436.42" rx="2.82" ry="2.79" fill="#3a2296" opacity="0.9"/>
<ellipse cx="348.94" cy="444.60" rx="2.11" ry="1.86" fill="#3a2296" opacity="0.9"/>
<ellipse cx="352.47" cy="441.25" rx="1.41" ry="1.49" fill="#3a2296" opacity="0.8"/>
<line x1="361.87" y1="447.64" x2="362.10" y2="450.90" stroke="#9a9a9a" stroke-width="0.8" />
<use href="#mz" transform="translate(362.34,429.54) scale(4.767,18.600)" fill="url(#mg)"/>
<ellipse cx="362.45" cy="436.23" rx="2.86" ry="2.79" fill="#3a2296" opacity="0.9"/>
<ellipse cx="360.19" cy="444.42" rx="2.15" ry="1.86" fill="#3a2296" opacity="0.9"/>
<ellipse cx="363.77" cy="441.07" rx="1.43" ry="1.49" fill="#3a2296" opacity="0.8"/>
<line x1="372.93" y1="447.78" x2="372.21" y2="450.90" stroke="#9a9a9a" stroke-width="0.8" />
<use href="#mz" transform="translate(372.61,429.68) scale(4.534,18.600)" fill="url(#mg)"/>
<ellipse cx="372.04" cy="436.38" rx="2.72" ry="2.79" fill="#3a2296" opacity="0.9"/>
<ellipse cx="370.57" cy="444.56" rx="2.04" ry="1.86" fill="#3a2296" opacity="0.9"/>
<ellipse cx="373.97" cy="441.21" rx="1.36" ry="1.49" fill="#3a2296" opacity="0.8"/>
<line x1="382.91" y1="447.91" x2="383.55" y2="450.90" stroke="#9a9a9a" stroke-width="0.8" />
<use href="#mz" transform="translate(382.84,429.81) scale(4.545,18.600)" fill="url(#mg)"/>
<ellipse cx="381.37" cy="436.60" rx="1.64" ry="1.43" fill="#3a2296" opacity="0.85"/>
<ellipse cx="380.91" cy="440.00" rx="2.45" ry="1.64" fill="#3a2296" opacity="0.85"/>
<line x1="394.02" y1="447.50" x2="392.78" y2="450.90" stroke="#9a9a9a" stroke-width="0.8" />
<use href="#mz" transform="translate(393.56,429.40) scale(4.473,18.600)" fill="url(#mg)"/>
<path d="M407.80,439.50 L412.60,444.06 M412.60,439.50 L407.80,444.06" stroke="#b8122e" stroke-width="1.6"/>
<rect x="416.30" y="428.25" width="12.00" height="23.25" fill="#141414"/>
<rect x="416.30" y="448.30" width="12.00" height="3.2" fill="#2a2a2a"/>
<line x1="422.56" y1="447.90" x2="422.17" y2="450.90" stroke="#9a9a9a" stroke-width="0.8" />
<use href="#mz" transform="translate(422.33,429.80) scale(4.743,18.600)" fill="url(#mg)"/>
<ellipse cx="422.90" cy="436.50" rx="2.85" ry="2.79" fill="#3a2296" opacity="0.9"/>
<ellipse cx="420.19" cy="444.68" rx="2.13" ry="1.86" fill="#3a2296" opacity="0.9"/>
<ellipse cx="423.75" cy="441.34" rx="1.42" ry="1.49" fill="#3a2296" opacity="0.8"/>
<path d="M430.90,439.50 L435.70,444.06 M435.70,439.50 L430.90,444.06" stroke="#b8122e" stroke-width="1.6"/>
<path d="M439.60,439.50 L444.40,444.06 M444.40,439.50 L439.60,444.06" stroke="#b8122e" stroke-width="1.6"/>
<rect x="447.00" y="428.25" width="12.50" height="23.25" fill="#141414"/>
<rect x="447.00" y="448.30" width="12.50" height="3.2" fill="#2a2a2a"/>
<line x1="453.18" y1="448.04" x2="454.30" y2="450.90" stroke="#9a9a9a" stroke-width="0.8" />
<use href="#mz" transform="translate(453.58,429.94) scale(4.730,18.600)" fill="url(#mg)"/>
<use href="#mz" transform="translate(453.58,429.64) scale(5.130,19.200)" fill="#2a3a9a"/>
<ellipse cx="453.58" cy="438.31" rx="2.84" ry="4.09" fill="#3a70d0" opacity="0.9"/>
<ellipse cx="452.16" cy="440.17" rx="1.66" ry="2.23" fill="#40b8e0" opacity="0.9"/>
<ellipse cx="454.52" cy="442.96" rx="1.42" ry="1.86" fill="#50c0a0" opacity="0.8"/>
<text x="283.90" y="472.15" font-size="6.5" text-anchor="end" fill="#262626" font-weight="normal" >D24</text>
<rect x="287.50" y="457.50" width="50.00" height="22.50" fill="#141414"/>
<rect x="287.50" y="476.80" width="50.00" height="3.2" fill="#2a2a2a"/>
<line x1="292.81" y1="476.08" x2="291.64" y2="479.40" stroke="#9a9a9a" stroke-width="0.8" />
<use href="#mz" transform="translate(292.40,458.68) scale(4.462,17.900)" fill="url(#mg)"/>
<line x1="302.45" y1="476.17" x2="302.83" y2="479.40" stroke="#9a9a9a" stroke-width="0.8" />
<use href="#mz" transform="translate(302.58,458.77) scale(4.318,17.900)" fill="url(#mg)"/>
<line x1="312.66" y1="476.35" x2="312.46" y2="479.40" stroke="#9a9a9a" stroke-width="0.8" />
<use href="#mz" transform="translate(312.81,458.95) scale(4.359,17.900)" fill="url(#mg)"/>
<line x1="322.74" y1="475.97" x2="323.29" y2="479.40" stroke="#9a9a9a" stroke-width="0.8" />
<use href="#mz" transform="translate(322.91,458.57) scale(4.346,17.900)" fill="url(#mg)"/>
<line x1="332.39" y1="476.28" x2="331.70" y2="479.40" stroke="#9a9a9a" stroke-width="0.8" />
<use href="#mz" transform="translate(332.21,458.88) scale(4.473,17.900)" fill="url(#mg)"/>
<ellipse cx="330.67" cy="469.61" rx="0.95" ry="0.82" fill="#3c2c88" opacity="0.8"/>
<rect x="346.30" y="457.50" width="52.50" height="22.50" fill="#141414"/>
<rect x="346.30" y="476.80" width="52.50" height="3.2" fill="#2a2a2a"/>
<line x1="351.90" y1="475.97" x2="351.99" y2="479.40" stroke="#9a9a9a" stroke-width="0.8" />
<use href="#mz" transform="translate(351.45,458.57) scale(4.486,17.900)" fill="url(#mg)"/>
<use href="#mz" transform="translate(351.45,458.27) scale(5.286,18.700)" fill="#3a2296"/>
<ellipse cx="351.76" cy="464.83" rx="2.24" ry="2.86" fill="#5438c4" opacity="0.7"/>
<path d="M348.34,467.38 Q351.45,468.38 354.56,467.18 Q353.63,471.78 351.45,471.98 Q349.27,471.78 348.34,467.38 Z" fill="#eeeaf6" opacity="0.95"/>
<line x1="361.44" y1="476.31" x2="361.57" y2="479.40" stroke="#9a9a9a" stroke-width="0.8" />
<use href="#mz" transform="translate(361.62,458.91) scale(4.647,17.900)" fill="url(#mg)"/>
<use href="#mz" transform="translate(361.62,458.61) scale(5.447,18.700)" fill="#3a2296"/>
<ellipse cx="362.14" cy="465.17" rx="2.32" ry="2.86" fill="#5438c4" opacity="0.7"/>
<path d="M357.69,468.40 Q361.62,469.40 365.54,468.20 Q364.37,472.80 361.62,473.00 Q358.87,472.80 357.69,468.40 Z" fill="#eeeaf6" opacity="0.95"/>
<line x1="372.83" y1="475.95" x2="373.61" y2="479.40" stroke="#9a9a9a" stroke-width="0.8" />
<use href="#mz" transform="translate(372.94,458.55) scale(4.714,17.900)" fill="url(#mg)"/>
<use href="#mz" transform="translate(372.94,458.25) scale(5.514,18.700)" fill="#3a2296"/>
<ellipse cx="373.40" cy="464.81" rx="2.36" ry="2.86" fill="#5438c4" opacity="0.7"/>
<path d="M369.26,468.44 Q372.94,469.44 376.62,468.24 Q375.52,472.84 372.94,473.04 Q370.36,472.84 369.26,468.44 Z" fill="#eeeaf6" opacity="0.95"/>
<line x1="382.97" y1="476.36" x2="381.85" y2="479.40" stroke="#9a9a9a" stroke-width="0.8" />
<use href="#mz" transform="translate(382.56,458.96) scale(4.689,17.900)" fill="url(#mg)"/>
<use href="#mz" transform="translate(382.56,458.66) scale(5.489,18.700)" fill="#3a2296"/>
<ellipse cx="382.70" cy="465.23" rx="2.34" ry="2.86" fill="#5438c4" opacity="0.7"/>
<path d="M379.00,468.24 Q382.56,469.24 386.12,468.04 Q385.05,472.64 382.56,472.84 Q380.07,472.64 379.00,468.24 Z" fill="#eeeaf6" opacity="0.95"/>
<line x1="394.19" y1="476.58" x2="393.16" y2="479.40" stroke="#9a9a9a" stroke-width="0.8" />
<use href="#mz" transform="translate(393.76,459.18) scale(4.597,17.900)" fill="url(#mg)"/>
<use href="#mz" transform="translate(393.76,458.88) scale(5.397,18.700)" fill="#3a2296"/>
<ellipse cx="394.05" cy="465.44" rx="2.30" ry="2.86" fill="#5438c4" opacity="0.7"/>
<path d="M390.28,469.03 Q393.76,470.03 397.25,468.83 Q396.21,473.43 393.76,473.63 Q391.32,473.43 390.28,469.03 Z" fill="#eeeaf6" opacity="0.95"/>
<rect x="416.00" y="457.50" width="12.00" height="22.50" fill="#141414"/>
<rect x="416.00" y="476.80" width="12.00" height="3.2" fill="#2a2a2a"/>
<line x1="421.84" y1="476.25" x2="422.03" y2="479.40" stroke="#9a9a9a" stroke-width="0.8" />
<use href="#mz" transform="translate(421.97,458.85) scale(4.751,17.900)" fill="url(#mg)"/>
<use href="#mz" transform="translate(421.97,458.55) scale(5.551,18.700)" fill="#3a2296"/>
<ellipse cx="421.42" cy="465.12" rx="2.38" ry="2.86" fill="#5438c4" opacity="0.7"/>
<path d="M418.25,468.95 Q421.97,469.95 425.68,468.75 Q424.57,473.35 421.97,473.55 Q419.37,473.35 418.25,468.95 Z" fill="#eeeaf6" opacity="0.95"/>
<path d="M450.60,467.17 L455.40,471.73 M455.40,467.17 L450.60,471.73" stroke="#b8122e" stroke-width="1.6"/>
<text x="283.90" y="500.12" font-size="6.5" text-anchor="end" fill="#262626" font-weight="normal" >D28</text>
<rect x="288.00" y="485.50" width="49.50" height="23.25" fill="#141414"/>
<rect x="288.00" y="505.55" width="49.50" height="3.2" fill="#2a2a2a"/>
<line x1="292.46" y1="504.63" x2="292.62" y2="508.15" stroke="#9a9a9a" stroke-width="0.8" />
<use href="#mz" transform="translate(292.90,486.53) scale(4.291,18.600)" fill="url(#mg)"/>
<ellipse cx="292.16" cy="495.66" rx="2.27" ry="1.51" fill="#3a2296" opacity="0.85"/>
<ellipse cx="292.77" cy="498.69" rx="1.47" ry="2.36" fill="#3a2296" opacity="0.85"/>
<ellipse cx="293.99" cy="502.22" rx="1.56" ry="1.51" fill="#3a2296" opacity="0.85"/>
<line x1="302.89" y1="504.70" x2="302.64" y2="508.15" stroke="#9a9a9a" stroke-width="0.8" />
<use href="#mz" transform="translate(303.27,486.60) scale(4.443,18.600)" fill="url(#mg)"/>
<line x1="312.04" y1="504.73" x2="312.25" y2="508.15" stroke="#9a9a9a" stroke-width="0.8" />
<use href="#mz" transform="translate(312.50,486.63) scale(4.284,18.600)" fill="url(#mg)"/>
<line x1="322.18" y1="504.75" x2="322.55" y2="508.15" stroke="#9a9a9a" stroke-width="0.8" />
<use href="#mz" transform="translate(322.67,486.65) scale(4.311,18.600)" fill="url(#mg)"/>
<line x1="332.15" y1="504.77" x2="332.44" y2="508.15" stroke="#9a9a9a" stroke-width="0.8" />
<use href="#mz" transform="translate(332.54,486.67) scale(4.495,18.600)" fill="url(#mg)"/>
<ellipse cx="334.23" cy="495.57" rx="1.20" ry="0.84" fill="#3c2c88" opacity="0.8"/>
<ellipse cx="334.20" cy="502.27" rx="0.85" ry="1.55" fill="#3c2c88" opacity="0.8"/>
<rect x="346.00" y="485.50" width="11.00" height="23.25" fill="#141414"/>
<rect x="346.00" y="505.55" width="11.00" height="3.2" fill="#2a2a2a"/>
<line x1="352.24" y1="504.83" x2="352.54" y2="508.15" stroke="#9a9a9a" stroke-width="0.8" />
<use href="#mz" transform="translate(351.81,486.73) scale(4.554,18.600)" fill="url(#mg)"/>
<use href="#mz" transform="translate(351.81,486.43) scale(5.354,19.400)" fill="#3a2296"/>
<ellipse cx="351.48" cy="493.24" rx="2.28" ry="2.98" fill="#5438c4" opacity="0.7"/>
<path d="M348.38,496.35 Q351.81,497.35 355.25,496.15 Q354.22,500.75 351.81,500.95 Q349.41,500.75 348.38,496.35 Z" fill="#eeeaf6" opacity="0.95"/>
<path d="M359.60,496.25 L364.40,500.81 M364.40,496.25 L359.60,500.81" stroke="#b8122e" stroke-width="1.6"/>
<path d="M368.60,496.25 L373.40,500.81 M373.40,496.25 L368.60,500.81" stroke="#b8122e" stroke-width="1.6"/>
<path d="M379.40,496.25 L384.20,500.81 M384.20,496.25 L379.40,500.81" stroke="#b8122e" stroke-width="1.6"/>
<rect x="388.00" y="485.50" width="10.80" height="23.25" fill="#141414"/>
<rect x="388.00" y="505.55" width="10.80" height="3.2" fill="#2a2a2a"/>
<line x1="393.48" y1="505.08" x2="393.50" y2="508.15" stroke="#9a9a9a" stroke-width="0.8" />
<use href="#mz" transform="translate(393.51,486.98) scale(4.509,18.600)" fill="url(#mg)"/>
<use href="#mz" transform="translate(393.51,486.68) scale(5.309,19.400)" fill="#3a2296"/>
<ellipse cx="393.02" cy="493.49" rx="2.25" ry="2.98" fill="#5438c4" opacity="0.7"/>
<path d="M389.98,497.13 Q393.51,498.13 397.05,496.93 Q395.99,501.53 393.51,501.73 Q391.04,501.53 389.98,497.13 Z" fill="#eeeaf6" opacity="0.95"/>
<ellipse cx="395.55" cy="499.92" rx="1.12" ry="1.64" fill="#2a60e0" opacity="0.85"/>
<ellipse cx="392.86" cy="501.16" rx="1.67" ry="1.83" fill="#e8e020" opacity="0.85"/>
<ellipse cx="394.37" cy="492.68" rx="1.13" ry="1.74" fill="#40b040" opacity="0.85"/>
<path d="M419.60,496.25 L424.40,500.81 M424.40,496.25 L419.60,500.81" stroke="#b8122e" stroke-width="1.6"/>
<text x="283.90" y="527.15" font-size="6.5" text-anchor="end" fill="#262626" font-weight="normal" >D32</text>
<rect x="287.50" y="512.50" width="21.30" height="22.50" fill="#141414"/>
<rect x="287.50" y="531.80" width="21.30" height="3.2" fill="#2a2a2a"/>
<line x1="292.63" y1="530.99" x2="293.72" y2="534.40" stroke="#9a9a9a" stroke-width="0.8" />
<use href="#mz" transform="translate(293.02,513.59) scale(4.640,17.900)" fill="url(#mg)"/>
<ellipse cx="292.12" cy="521.70" rx="0.86" ry="0.96" fill="#3c2c88" opacity="0.8"/>
<ellipse cx="294.03" cy="527.88" rx="1.42" ry="0.96" fill="#3c2c88" opacity="0.8"/>
<line x1="303.16" y1="531.16" x2="302.69" y2="534.40" stroke="#9a9a9a" stroke-width="0.8" />
<use href="#mz" transform="translate(303.05,513.76) scale(4.580,17.900)" fill="url(#mg)"/>
<path d="M310.10,522.67 L314.90,527.23 M314.90,522.67 L310.10,527.23" stroke="#b8122e" stroke-width="1.6"/>
<path d="M317.60,522.67 L322.40,527.23 M322.40,522.67 L317.60,527.23" stroke="#b8122e" stroke-width="1.6"/>
<rect x="325.50" y="512.50" width="10.80" height="22.50" fill="#141414"/>
<rect x="325.50" y="531.80" width="10.80" height="3.2" fill="#2a2a2a"/>
<line x1="330.55" y1="530.97" x2="330.40" y2="534.40" stroke="#9a9a9a" stroke-width="0.8" />
<use href="#mz" transform="translate(330.53,513.57) scale(4.537,17.900)" fill="url(#mg)"/>
<path d="M348.10,522.67 L352.90,527.23 M352.90,522.67 L348.10,527.23" stroke="#b8122e" stroke-width="1.6"/>
<path d="M390.10,522.67 L394.90,527.23 M394.90,522.67 L390.10,527.23" stroke="#b8122e" stroke-width="1.6"/>
<text x="283.90" y="552.07" font-size="6.5" text-anchor="end" fill="#262626" font-weight="normal" >D35</text>
<rect x="287.50" y="538.75" width="21.30" height="21.25" fill="#141414"/>
<rect x="287.50" y="556.80" width="21.30" height="3.2" fill="#2a2a2a"/>
<line x1="293.19" y1="555.99" x2="293.54" y2="559.40" stroke="#9a9a9a" stroke-width="0.8" />
<use href="#mz" transform="translate(292.82,539.84) scale(4.535,16.650)" fill="url(#mg)"/>
<line x1="303.03" y1="556.06" x2="302.57" y2="559.40" stroke="#9a9a9a" stroke-width="0.8" />
<use href="#mz" transform="translate(303.05,539.91) scale(4.695,16.650)" fill="url(#mg)"/>
<rect x="325.50" y="538.75" width="10.80" height="21.25" fill="#141414"/>
<rect x="325.50" y="556.80" width="10.80" height="3.2" fill="#2a2a2a"/>
<line x1="330.68" y1="556.35" x2="330.55" y2="559.40" stroke="#9a9a9a" stroke-width="0.8" />
<use href="#mz" transform="translate(330.81,540.20) scale(4.566,16.650)" fill="url(#mg)"/>
<ellipse cx="331.54" cy="549.47" rx="1.33" ry="0.81" fill="#3c2c88" opacity="0.8"/>
<ellipse cx="331.32" cy="547.79" rx="1.10" ry="1.27" fill="#3c2c88" opacity="0.8"/>
<text x="283.90" y="577.17" font-size="6.5" text-anchor="end" fill="#262626" font-weight="normal" >D40</text>
<rect x="287.50" y="563.75" width="21.30" height="21.25" fill="#141414"/>
<rect x="287.50" y="581.80" width="21.30" height="3.2" fill="#2a2a2a"/>
<line x1="292.79" y1="581.09" x2="293.80" y2="584.40" stroke="#9a9a9a" stroke-width="0.8" />
<use href="#mz" transform="translate(293.19,564.94) scale(4.616,16.650)" fill="url(#mg)"/>
<rect x="289.27" y="572.94" width="7.85" height="6.66" rx="1" fill="#3a2296" opacity="0.92"/>
<ellipse cx="292.27" cy="574.60" rx="1.15" ry="0.83" fill="#e8e4f4" opacity="0.9"/>
<line x1="303.70" y1="581.36" x2="303.28" y2="584.40" stroke="#9a9a9a" stroke-width="0.8" />
<use href="#mz" transform="translate(303.74,565.21) scale(4.531,16.650)" fill="url(#mg)"/>
<rect x="325.50" y="563.75" width="10.80" height="21.25" fill="#141414"/>
<rect x="325.50" y="581.80" width="10.80" height="3.2" fill="#2a2a2a"/>
<line x1="331.28" y1="580.92" x2="331.51" y2="584.40" stroke="#9a9a9a" stroke-width="0.8" />
<use href="#mz" transform="translate(331.19,564.77) scale(4.505,16.650)" fill="url(#mg)"/>
<ellipse cx="331.95" cy="573.30" rx="0.86" ry="0.94" fill="#3c2c88" opacity="0.8"/>
<text x="283.90" y="601.88" font-size="6.5" text-anchor="end" fill="#262626" font-weight="normal" >D44</text>
<rect x="287.50" y="586.25" width="21.30" height="24.25" fill="#141414"/>
<rect x="287.50" y="607.30" width="21.30" height="3.2" fill="#2a2a2a"/>
<line x1="292.39" y1="605.81" x2="292.39" y2="609.90" stroke="#9a9a9a" stroke-width="0.8" />
<use href="#mz" transform="translate(292.83,587.71) scale(4.644,18.600)" fill="url(#mg)"/>
<rect x="288.88" y="596.63" width="7.89" height="7.44" rx="1" fill="#3a2296" opacity="0.92"/>
<ellipse cx="291.90" cy="598.49" rx="1.16" ry="0.93" fill="#e8e4f4" opacity="0.9"/>
<line x1="302.73" y1="605.65" x2="303.06" y2="609.90" stroke="#9a9a9a" stroke-width="0.8" />
<use href="#mz" transform="translate(303.00,587.55) scale(4.737,18.600)" fill="url(#mg)"/>
<rect x="325.50" y="586.25" width="10.80" height="24.25" fill="#141414"/>
<rect x="325.50" y="607.30" width="10.80" height="3.2" fill="#2a2a2a"/>
<line x1="330.67" y1="606.05" x2="330.97" y2="609.90" stroke="#9a9a9a" stroke-width="0.8" />
<use href="#mz" transform="translate(330.51,587.95) scale(4.517,18.600)" fill="url(#mg)"/>
<ellipse cx="330.59" cy="600.44" rx="2.10" ry="2.21" fill="#3a2296" opacity="0.85"/>
<ellipse cx="330.58" cy="595.44" rx="2.51" ry="1.30" fill="#3a2296" opacity="0.85"/>
<rect x="491.80" y="335.60" width="4.80" height="64.10" fill="url(#cb)"/>
<line x1="496.60" y1="335.60" x2="499.40" y2="335.60" stroke="#1a1a1a" stroke-width="0.9" />
<line x1="496.60" y1="338.81" x2="498.60" y2="338.81" stroke="#1a1a1a" stroke-width="0.9" />
<line x1="496.60" y1="342.01" x2="498.60" y2="342.01" stroke="#1a1a1a" stroke-width="0.9" />
<line x1="496.60" y1="345.22" x2="498.60" y2="345.22" stroke="#1a1a1a" stroke-width="0.9" />
<line x1="496.60" y1="348.42" x2="498.60" y2="348.42" stroke="#1a1a1a" stroke-width="0.9" />
<line x1="496.60" y1="351.62" x2="499.40" y2="351.62" stroke="#1a1a1a" stroke-width="0.9" />
<line x1="496.60" y1="354.83" x2="498.60" y2="354.83" stroke="#1a1a1a" stroke-width="0.9" />
<line x1="496.60" y1="358.04" x2="498.60" y2="358.04" stroke="#1a1a1a" stroke-width="0.9" />
<line x1="496.60" y1="361.24" x2="498.60" y2="361.24" stroke="#1a1a1a" stroke-width="0.9" />
<line x1="496.60" y1="364.44" x2="498.60" y2="364.44" stroke="#1a1a1a" stroke-width="0.9" />
<line x1="496.60" y1="367.65" x2="499.40" y2="367.65" stroke="#1a1a1a" stroke-width="0.9" />
<line x1="496.60" y1="370.86" x2="498.60" y2="370.86" stroke="#1a1a1a" stroke-width="0.9" />
<line x1="496.60" y1="374.06" x2="498.60" y2="374.06" stroke="#1a1a1a" stroke-width="0.9" />
<line x1="496.60" y1="377.26" x2="498.60" y2="377.26" stroke="#1a1a1a" stroke-width="0.9" />
<line x1="496.60" y1="380.47" x2="498.60" y2="380.47" stroke="#1a1a1a" stroke-width="0.9" />
<line x1="496.60" y1="383.68" x2="499.40" y2="383.68" stroke="#1a1a1a" stroke-width="0.9" />
<line x1="496.60" y1="386.88" x2="498.60" y2="386.88" stroke="#1a1a1a" stroke-width="0.9" />
<line x1="496.60" y1="390.08" x2="498.60" y2="390.08" stroke="#1a1a1a" stroke-width="0.9" />
<line x1="496.60" y1="393.29" x2="498.60" y2="393.29" stroke="#1a1a1a" stroke-width="0.9" />
<line x1="496.60" y1="396.50" x2="498.60" y2="396.50" stroke="#1a1a1a" stroke-width="0.9" />
<line x1="496.60" y1="399.70" x2="499.40" y2="399.70" stroke="#1a1a1a" stroke-width="0.9" />
<rect x="491.80" y="335.60" width="4.80" height="64.10" fill="none" stroke="#222" stroke-width="0.5"/>
<text x="504.60" y="338.50" font-size="6.3" text-anchor="start" fill="#2a2a2a" font-weight="normal" >1.0</text>
<text x="504.60" y="351.20" font-size="6.3" text-anchor="start" fill="#2a2a2a" font-weight="normal" >0.8</text>
<text x="504.60" y="363.80" font-size="6.3" text-anchor="start" fill="#2a2a2a" font-weight="normal" >0.6</text>
<text x="504.60" y="376.20" font-size="6.3" text-anchor="start" fill="#2a2a2a" font-weight="normal" >0.4</text>
<text x="504.60" y="389.20" font-size="6.3" text-anchor="start" fill="#2a2a2a" font-weight="normal" >0.2</text>
<rect x="491.80" y="403.40" width="4.80" height="80.60" fill="url(#cb)"/>
<line x1="496.60" y1="403.40" x2="499.40" y2="403.40" stroke="#1a1a1a" stroke-width="0.9" />
<line x1="496.60" y1="406.50" x2="498.60" y2="406.50" stroke="#1a1a1a" stroke-width="0.9" />
<line x1="496.60" y1="409.60" x2="498.60" y2="409.60" stroke="#1a1a1a" stroke-width="0.9" />
<line x1="496.60" y1="412.70" x2="498.60" y2="412.70" stroke="#1a1a1a" stroke-width="0.9" />
<line x1="496.60" y1="415.80" x2="498.60" y2="415.80" stroke="#1a1a1a" stroke-width="0.9" />
<line x1="496.60" y1="418.90" x2="499.40" y2="418.90" stroke="#1a1a1a" stroke-width="0.9" />
<line x1="496.60" y1="422.00" x2="498.60" y2="422.00" stroke="#1a1a1a" stroke-width="0.9" />
<line x1="496.60" y1="425.10" x2="498.60" y2="425.10" stroke="#1a1a1a" stroke-width="0.9" />
<line x1="496.60" y1="428.20" x2="498.60" y2="428.20" stroke="#1a1a1a" stroke-width="0.9" />
<line x1="496.60" y1="431.30" x2="498.60" y2="431.30" stroke="#1a1a1a" stroke-width="0.9" />
<line x1="496.60" y1="434.40" x2="499.40" y2="434.40" stroke="#1a1a1a" stroke-width="0.9" />
<line x1="496.60" y1="437.50" x2="498.60" y2="437.50" stroke="#1a1a1a" stroke-width="0.9" />
<line x1="496.60" y1="440.60" x2="498.60" y2="440.60" stroke="#1a1a1a" stroke-width="0.9" />
<line x1="496.60" y1="443.70" x2="498.60" y2="443.70" stroke="#1a1a1a" stroke-width="0.9" />
<line x1="496.60" y1="446.80" x2="498.60" y2="446.80" stroke="#1a1a1a" stroke-width="0.9" />
<line x1="496.60" y1="449.90" x2="499.40" y2="449.90" stroke="#1a1a1a" stroke-width="0.9" />
<line x1="496.60" y1="453.00" x2="498.60" y2="453.00" stroke="#1a1a1a" stroke-width="0.9" />
<line x1="496.60" y1="456.10" x2="498.60" y2="456.10" stroke="#1a1a1a" stroke-width="0.9" />
<line x1="496.60" y1="459.20" x2="498.60" y2="459.20" stroke="#1a1a1a" stroke-width="0.9" />
<line x1="496.60" y1="462.30" x2="498.60" y2="462.30" stroke="#1a1a1a" stroke-width="0.9" />
<line x1="496.60" y1="465.40" x2="499.40" y2="465.40" stroke="#1a1a1a" stroke-width="0.9" />
<line x1="496.60" y1="468.50" x2="498.60" y2="468.50" stroke="#1a1a1a" stroke-width="0.9" />
<line x1="496.60" y1="471.60" x2="498.60" y2="471.60" stroke="#1a1a1a" stroke-width="0.9" />
<line x1="496.60" y1="474.70" x2="498.60" y2="474.70" stroke="#1a1a1a" stroke-width="0.9" />
<line x1="496.60" y1="477.80" x2="498.60" y2="477.80" stroke="#1a1a1a" stroke-width="0.9" />
<line x1="496.60" y1="480.90" x2="499.40" y2="480.90" stroke="#1a1a1a" stroke-width="0.9" />
<line x1="496.60" y1="484.00" x2="498.60" y2="484.00" stroke="#1a1a1a" stroke-width="0.9" />
<rect x="491.80" y="403.40" width="4.80" height="80.60" fill="none" stroke="#222" stroke-width="0.5"/>
<text x="504.60" y="405.60" font-size="6.3" text-anchor="start" fill="#2a2a2a" font-weight="normal" >5.0</text>
<text x="504.60" y="422.20" font-size="6.3" text-anchor="start" fill="#2a2a2a" font-weight="normal" >4.0</text>
<text x="504.60" y="438.60" font-size="6.3" text-anchor="start" fill="#2a2a2a" font-weight="normal" >3.0</text>
<text x="504.60" y="453.70" font-size="6.3" text-anchor="start" fill="#2a2a2a" font-weight="normal" >2.0</text>
<text x="504.60" y="470.00" font-size="6.3" text-anchor="start" fill="#2a2a2a" font-weight="normal" >1.0</text>
<rect x="491.80" y="490.70" width="4.80" height="112.30" fill="url(#cb)"/>
<line x1="496.60" y1="490.70" x2="499.40" y2="490.70" stroke="#1a1a1a" stroke-width="0.9" />
<line x1="496.60" y1="493.82" x2="498.60" y2="493.82" stroke="#1a1a1a" stroke-width="0.9" />
<line x1="496.60" y1="496.94" x2="498.60" y2="496.94" stroke="#1a1a1a" stroke-width="0.9" />
<line x1="496.60" y1="500.06" x2="498.60" y2="500.06" stroke="#1a1a1a" stroke-width="0.9" />
<line x1="496.60" y1="503.18" x2="498.60" y2="503.18" stroke="#1a1a1a" stroke-width="0.9" />
<line x1="496.60" y1="506.30" x2="499.40" y2="506.30" stroke="#1a1a1a" stroke-width="0.9" />
<line x1="496.60" y1="509.42" x2="498.60" y2="509.42" stroke="#1a1a1a" stroke-width="0.9" />
<line x1="496.60" y1="512.54" x2="498.60" y2="512.54" stroke="#1a1a1a" stroke-width="0.9" />
<line x1="496.60" y1="515.66" x2="498.60" y2="515.66" stroke="#1a1a1a" stroke-width="0.9" />
<line x1="496.60" y1="518.77" x2="498.60" y2="518.77" stroke="#1a1a1a" stroke-width="0.9" />
<line x1="496.60" y1="521.89" x2="499.40" y2="521.89" stroke="#1a1a1a" stroke-width="0.9" />
<line x1="496.60" y1="525.01" x2="498.60" y2="525.01" stroke="#1a1a1a" stroke-width="0.9" />
<line x1="496.60" y1="528.13" x2="498.60" y2="528.13" stroke="#1a1a1a" stroke-width="0.9" />
<line x1="496.60" y1="531.25" x2="498.60" y2="531.25" stroke="#1a1a1a" stroke-width="0.9" />
<line x1="496.60" y1="534.37" x2="498.60" y2="534.37" stroke="#1a1a1a" stroke-width="0.9" />
<line x1="496.60" y1="537.49" x2="499.40" y2="537.49" stroke="#1a1a1a" stroke-width="0.9" />
<line x1="496.60" y1="540.61" x2="498.60" y2="540.61" stroke="#1a1a1a" stroke-width="0.9" />
<line x1="496.60" y1="543.73" x2="498.60" y2="543.73" stroke="#1a1a1a" stroke-width="0.9" />
<line x1="496.60" y1="546.85" x2="498.60" y2="546.85" stroke="#1a1a1a" stroke-width="0.9" />
<line x1="496.60" y1="549.97" x2="498.60" y2="549.97" stroke="#1a1a1a" stroke-width="0.9" />
<line x1="496.60" y1="553.09" x2="499.40" y2="553.09" stroke="#1a1a1a" stroke-width="0.9" />
<line x1="496.60" y1="556.21" x2="498.60" y2="556.21" stroke="#1a1a1a" stroke-width="0.9" />
<line x1="496.60" y1="559.33" x2="498.60" y2="559.33" stroke="#1a1a1a" stroke-width="0.9" />
<line x1="496.60" y1="562.45" x2="498.60" y2="562.45" stroke="#1a1a1a" stroke-width="0.9" />
<line x1="496.60" y1="565.57" x2="498.60" y2="565.57" stroke="#1a1a1a" stroke-width="0.9" />
<line x1="496.60" y1="568.69" x2="499.40" y2="568.69" stroke="#1a1a1a" stroke-width="0.9" />
<line x1="496.60" y1="571.81" x2="498.60" y2="571.81" stroke="#1a1a1a" stroke-width="0.9" />
<line x1="496.60" y1="574.92" x2="498.60" y2="574.92" stroke="#1a1a1a" stroke-width="0.9" />
<line x1="496.60" y1="578.04" x2="498.60" y2="578.04" stroke="#1a1a1a" stroke-width="0.9" />
<line x1="496.60" y1="581.16" x2="498.60" y2="581.16" stroke="#1a1a1a" stroke-width="0.9" />
<line x1="496.60" y1="584.28" x2="499.40" y2="584.28" stroke="#1a1a1a" stroke-width="0.9" />
<line x1="496.60" y1="587.40" x2="498.60" y2="587.40" stroke="#1a1a1a" stroke-width="0.9" />
<line x1="496.60" y1="590.52" x2="498.60" y2="590.52" stroke="#1a1a1a" stroke-width="0.9" />
<line x1="496.60" y1="593.64" x2="498.60" y2="593.64" stroke="#1a1a1a" stroke-width="0.9" />
<line x1="496.60" y1="596.76" x2="498.60" y2="596.76" stroke="#1a1a1a" stroke-width="0.9" />
<line x1="496.60" y1="599.88" x2="499.40" y2="599.88" stroke="#1a1a1a" stroke-width="0.9" />
<line x1="496.60" y1="603.00" x2="498.60" y2="603.00" stroke="#1a1a1a" stroke-width="0.9" />
<rect x="491.80" y="490.70" width="4.80" height="112.30" fill="none" stroke="#222" stroke-width="0.5"/>
<text x="504.60" y="493.20" font-size="6.3" text-anchor="start" fill="#2a2a2a" font-weight="normal" >1.0</text>
<text x="504.60" y="516.20" font-size="6.3" text-anchor="start" fill="#2a2a2a" font-weight="normal" >0.8</text>
<text x="504.60" y="538.90" font-size="6.3" text-anchor="start" fill="#2a2a2a" font-weight="normal" >0.6</text>
<text x="504.60" y="561.00" font-size="6.3" text-anchor="start" fill="#2a2a2a" font-weight="normal" >0.4</text>
<text x="504.60" y="583.20" font-size="6.3" text-anchor="start" fill="#2a2a2a" font-weight="normal" >0.2</text>
<text x="468.50" y="355.50" font-size="6.4" fill="#2a2a2a">×10<tspan font-size="4" dx="0.5" dy="-2.8">5</tspan></text>
<text x="468.50" y="385.00" font-size="6.4" fill="#2a2a2a">×10<tspan font-size="4" dx="0.5" dy="-2.8">5</tspan></text>
<text x="468.50" y="413.60" font-size="6.4" fill="#2a2a2a">×10<tspan font-size="4" dx="0.5" dy="-2.8">6</tspan></text>
<text x="468.50" y="444.80" font-size="6.4" fill="#2a2a2a">×10<tspan font-size="4" dx="0.5" dy="-2.8">7</tspan></text>
<text x="468.50" y="471.00" font-size="6.4" fill="#2a2a2a">×10<tspan font-size="4" dx="0.5" dy="-2.8">8</tspan></text>
<text x="468.50" y="499.40" font-size="6.4" fill="#2a2a2a">×10<tspan font-size="4" dx="0.5" dy="-2.8">9</tspan></text>
<text x="468.50" y="525.40" font-size="6.4" fill="#2a2a2a">×10<tspan font-size="4" dx="0.5" dy="-2.8">10</tspan></text>
<text x="468.50" y="552.70" font-size="6.4" fill="#2a2a2a">×10<tspan font-size="4" dx="0.5" dy="-2.8">10</tspan></text>
<text x="468.50" y="577.40" font-size="6.4" fill="#2a2a2a">×10<tspan font-size="4" dx="0.5" dy="-2.8">10</tspan></text>
<text x="468.50" y="600.30" font-size="6.4" fill="#2a2a2a">×10<tspan font-size="4" dx="0.5" dy="-2.8">10</tspan></text>
</g>
</svg>
</body></html>
